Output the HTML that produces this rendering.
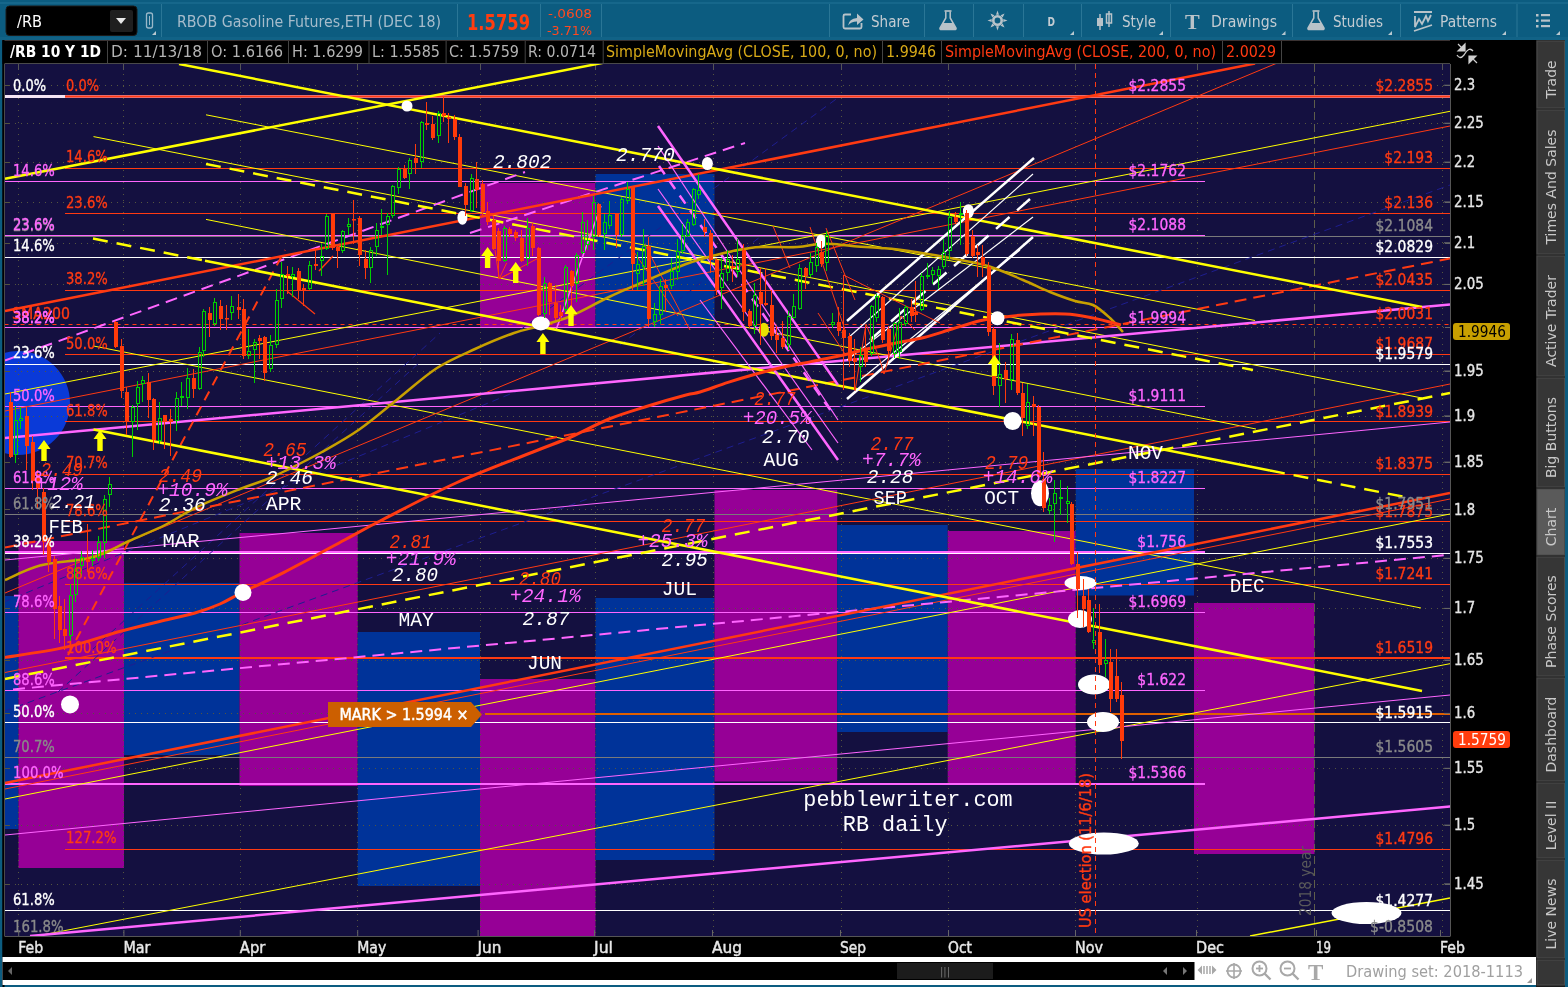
<!DOCTYPE html>
<html><head><meta charset="utf-8"><title>/RB chart</title>
<style>html,body{margin:0;padding:0;background:#000;width:1568px;height:987px;overflow:hidden}svg{display:block}text{white-space:pre}</style>
</head><body>
<svg width="1568" height="987" viewBox="0 0 1568 987">
<defs><clipPath id="plotclip"><rect x="4.5" y="64" width="1445.5" height="872"/></clipPath></defs>
<rect x="0" y="0" width="1568" height="987" fill="#000"/>
<rect x="0" y="0" width="1568" height="40" fill="#0c5c80"/>
<rect x="0" y="2" width="1568" height="2" fill="#16678b"/>
<rect x="0" y="37" width="1568" height="3" fill="#116286"/>
<rect x="0" y="40" width="2.5" height="947" fill="#0c5c80"/>
<rect x="1565" y="40" width="3" height="947" fill="#0c5c80"/>
<rect x="0" y="985" width="1568" height="2" fill="#0c5c80"/>
<rect x="6" y="6" width="131" height="29.5" rx="3.5" fill="#000" stroke="#1a1a1a"/>
<rect x="110" y="10" width="23" height="22" rx="2" fill="#1f1f1f"/>
<path d="M116 18 L126 18 L121 24 Z" fill="#e8e8e8"/>
<text x="17" y="27" fill="#ffffff" font-size="16" font-family="DejaVu Sans" textLength="25" lengthAdjust="spacingAndGlyphs">/RB</text>
<rect x="146.5" y="13" width="6" height="15" rx="2" fill="none" stroke="#9ab8c8" stroke-width="1.3"/>
<line x1="149.5" y1="16" x2="149.5" y2="25" stroke="#9ab8c8" stroke-width="1"/>
<path d="M152 35 L156 35 L156 31 Z" fill="#b8c8d0"/>
<path d="M1070 35 L1074 35 L1074 31 Z" fill="#b8c8d0"/>
<path d="M1159 35 L1163 35 L1163 31 Z" fill="#b8c8d0"/>
<path d="M1281.5 35 L1285.5 35 L1285.5 31 Z" fill="#b8c8d0"/>
<path d="M1388 35 L1392 35 L1392 31 Z" fill="#b8c8d0"/>
<path d="M1502 35 L1506 35 L1506 31 Z" fill="#b8c8d0"/>
<path d="M1556 35 L1560 35 L1560 31 Z" fill="#b8c8d0"/>
<rect x="161" y="4" width="1" height="33" fill="#2a7696"/>
<rect x="457" y="4" width="1" height="33" fill="#2a7696"/>
<rect x="540" y="4" width="1" height="33" fill="#2a7696"/>
<rect x="601" y="4" width="1" height="33" fill="#2a7696"/>
<rect x="829" y="4" width="1" height="33" fill="#2a7696"/>
<rect x="924" y="4" width="1" height="33" fill="#2a7696"/>
<rect x="973" y="4" width="1" height="33" fill="#2a7696"/>
<rect x="1023" y="4" width="1" height="33" fill="#2a7696"/>
<rect x="1081" y="4" width="1" height="33" fill="#2a7696"/>
<rect x="1170" y="4" width="1" height="33" fill="#2a7696"/>
<rect x="1292" y="4" width="1" height="33" fill="#2a7696"/>
<rect x="1400" y="4" width="1" height="33" fill="#2a7696"/>
<rect x="1516.5" y="4" width="1" height="33" fill="#2a7696"/>
<text x="177" y="27" fill="#a6bccb" font-size="16" font-family="DejaVu Sans" font-weight="normal" text-anchor="start" textLength="264" lengthAdjust="spacingAndGlyphs">RBOB Gasoline Futures,ETH (DEC 18)</text>
<text x="467" y="30" fill="#ff3d10" font-size="22" font-family="DejaVu Sans" font-weight="bold" text-anchor="start" textLength="63" lengthAdjust="spacingAndGlyphs">1.5759</text>
<text x="548" y="18" fill="#ff4a20" font-size="12.5" font-family="DejaVu Sans" font-weight="normal" text-anchor="start" textLength="44" lengthAdjust="spacingAndGlyphs">-.0608</text>
<text x="547" y="35" fill="#ff4a20" font-size="12.5" font-family="DejaVu Sans" font-weight="normal" text-anchor="start" textLength="45" lengthAdjust="spacingAndGlyphs">-3.71%</text>
<text x="871" y="27" fill="#c4ccd2" font-size="16" font-family="DejaVu Sans" font-weight="normal" text-anchor="start" textLength="39" lengthAdjust="spacingAndGlyphs">Share</text>
<text x="1122" y="27" fill="#c4ccd2" font-size="16" font-family="DejaVu Sans" font-weight="normal" text-anchor="start" textLength="34" lengthAdjust="spacingAndGlyphs">Style</text>
<text x="1211" y="27" fill="#c4ccd2" font-size="16" font-family="DejaVu Sans" font-weight="normal" text-anchor="start" textLength="66" lengthAdjust="spacingAndGlyphs">Drawings</text>
<text x="1333" y="27" fill="#c4ccd2" font-size="16" font-family="DejaVu Sans" font-weight="normal" text-anchor="start" textLength="50" lengthAdjust="spacingAndGlyphs">Studies</text>
<text x="1440" y="27" fill="#c4ccd2" font-size="16" font-family="DejaVu Sans" font-weight="normal" text-anchor="start" textLength="57" lengthAdjust="spacingAndGlyphs">Patterns</text>
<text x="1047.5" y="26" fill="#c4ccd2" font-size="12.5" font-family="DejaVu Sans" font-weight="bold" text-anchor="start" textLength="7.5" lengthAdjust="spacingAndGlyphs">D</text>
<path d="M851 14.5 L845 14.5 Q843.5 14.5 843.5 16 L843.5 27 Q843.5 28.5 845 28.5 L860 28.5 Q861.5 28.5 861.5 27 L861.5 23" fill="none" stroke="#b9c3c9" stroke-width="1.8"/>
<path d="M848 25.5 Q849 18.5 857 18 L857 13.5 L863.5 19.5 L857 25 L857 21.5 Q851 21.5 848 25.5 Z" fill="#b9c3c9"/>
<path d="M944.5 11 L951.5 11" stroke="#b9c3c9" stroke-width="1.6"/>
<path d="M945.8 11.5 L945.8 18 L940 28 Q939.5 29.5 941.5 29.5 L954.5 29.5 Q956.5 29.5 956 28 L950.2 18 L950.2 11.5" fill="none" stroke="#b9c3c9" stroke-width="1.5"/>
<path d="M943 23 L953 23 L956 28.5 Q956 29.5 954.5 29.5 L941.5 29.5 Q940 29.5 940 28.5 Z" fill="#b9c3c9"/>
<path d="M1312.5 11 L1319.5 11" stroke="#b9c3c9" stroke-width="1.6"/>
<path d="M1313.8 11.5 L1313.8 18 L1308 28 Q1307.5 29.5 1309.5 29.5 L1322.5 29.5 Q1324.5 29.5 1324 28 L1318.2 18 L1318.2 11.5" fill="none" stroke="#b9c3c9" stroke-width="1.5"/>
<path d="M1311 23 L1321 23 L1324 28.5 Q1324 29.5 1322.5 29.5 L1309.5 29.5 Q1308 29.5 1308 28.5 Z" fill="#b9c3c9"/>
<circle cx="997.5" cy="20.5" r="4.2" fill="none" stroke="#b9c3c9" stroke-width="2.6"/>
<path d="M1007.50 20.50 L1003.32 19.05 L1003.32 21.95 Z" fill="#b9c3c9"/>
<path d="M1004.57 27.57 L1002.64 23.59 L1000.59 25.64 Z" fill="#b9c3c9"/>
<path d="M997.50 30.50 L998.95 26.32 L996.05 26.32 Z" fill="#b9c3c9"/>
<path d="M990.43 27.57 L994.41 25.64 L992.36 23.59 Z" fill="#b9c3c9"/>
<path d="M987.50 20.50 L991.68 21.95 L991.68 19.05 Z" fill="#b9c3c9"/>
<path d="M990.43 13.43 L992.36 17.41 L994.41 15.36 Z" fill="#b9c3c9"/>
<path d="M997.50 10.50 L996.05 14.68 L998.95 14.68 Z" fill="#b9c3c9"/>
<path d="M1004.57 13.43 L1000.59 15.36 L1002.64 17.41 Z" fill="#b9c3c9"/>
<line x1="1100" y1="14" x2="1100" y2="30" stroke="#b9c3c9" stroke-width="1.5"/><rect x="1097" y="18" width="6" height="8" fill="#b9c3c9"/>
<line x1="1109" y1="11" x2="1109" y2="27" stroke="#b9c3c9" stroke-width="1.5"/><rect x="1106.5" y="14" width="5" height="9" fill="none" stroke="#b9c3c9" stroke-width="1.5"/>
<text x="1185" y="29" fill="#b9c3c9" font-size="22" font-family="Liberation Serif" font-weight="bold">T</text>
<path d="M1414 12 L1432 12 M1415 16 L1415 27 L1419 19 L1422 24 L1426 16 L1428 21 L1431 15 M1414 31 L1432 25" fill="none" stroke="#b9c3c9" stroke-width="1.8"/>
<rect x="1536" y="14" width="2.5" height="2.5" fill="#b9c3c9"/><rect x="1541" y="14" width="9" height="2.2" fill="#b9c3c9"/>
<rect x="1536" y="19.5" width="2.5" height="2.5" fill="#b9c3c9"/><rect x="1541" y="19.5" width="9" height="2.2" fill="#b9c3c9"/>
<rect x="1536" y="25" width="2.5" height="2.5" fill="#b9c3c9"/><rect x="1541" y="25" width="9" height="2.2" fill="#b9c3c9"/>
<rect x="2.5" y="40" width="1448" height="24" fill="#000"/>
<rect x="2.5" y="40" width="1448" height="1" fill="#3a3232"/>
<rect x="4" y="63" width="1446" height="1" fill="#4a4a4a"/>
<rect x="2.5" y="40" width="2" height="947" fill="#000"/>
<rect x="107" y="41" width="1" height="22" fill="#444"/>
<rect x="207" y="41" width="1" height="22" fill="#444"/>
<rect x="288" y="41" width="1" height="22" fill="#444"/>
<rect x="368.5" y="41" width="1" height="22" fill="#444"/>
<rect x="445.6" y="41" width="1" height="22" fill="#444"/>
<rect x="524.7" y="41" width="1" height="22" fill="#444"/>
<rect x="602.7" y="41" width="1" height="22" fill="#444"/>
<rect x="882" y="41" width="1" height="22" fill="#444"/>
<rect x="941" y="41" width="1" height="22" fill="#444"/>
<rect x="1222" y="41" width="1" height="22" fill="#444"/>
<rect x="1281" y="41" width="1" height="22" fill="#444"/>
<text x="10" y="57" fill="#ffffff" font-size="15" font-family="DejaVu Sans" font-weight="bold" text-anchor="start" textLength="91" lengthAdjust="spacingAndGlyphs">/RB 10 Y 1D</text>
<text x="111" y="57" fill="#b4b4b4" font-size="15" font-family="DejaVu Sans" font-weight="normal" text-anchor="start" textLength="91" lengthAdjust="spacingAndGlyphs">D: 11/13/18</text>
<text x="211" y="57" fill="#b4b4b4" font-size="15" font-family="DejaVu Sans" font-weight="normal" text-anchor="start" textLength="72" lengthAdjust="spacingAndGlyphs">O: 1.6166</text>
<text x="292" y="57" fill="#b4b4b4" font-size="15" font-family="DejaVu Sans" font-weight="normal" text-anchor="start" textLength="71" lengthAdjust="spacingAndGlyphs">H: 1.6299</text>
<text x="372" y="57" fill="#b4b4b4" font-size="15" font-family="DejaVu Sans" font-weight="normal" text-anchor="start" textLength="68" lengthAdjust="spacingAndGlyphs">L: 1.5585</text>
<text x="449" y="57" fill="#b4b4b4" font-size="15" font-family="DejaVu Sans" font-weight="normal" text-anchor="start" textLength="70" lengthAdjust="spacingAndGlyphs">C: 1.5759</text>
<text x="528" y="57" fill="#b4b4b4" font-size="15" font-family="DejaVu Sans" font-weight="normal" text-anchor="start" textLength="68" lengthAdjust="spacingAndGlyphs">R: 0.0714</text>
<text x="606" y="57" fill="#d8aa18" font-size="15" font-family="DejaVu Sans" font-weight="normal" text-anchor="start" textLength="271" lengthAdjust="spacingAndGlyphs">SimpleMovingAvg (CLOSE, 100, 0, no)</text>
<text x="886" y="57" fill="#d8aa18" font-size="15" font-family="DejaVu Sans" font-weight="normal" text-anchor="start" textLength="50" lengthAdjust="spacingAndGlyphs">1.9946</text>
<text x="945" y="57" fill="#ff3a12" font-size="15" font-family="DejaVu Sans" font-weight="normal" text-anchor="start" textLength="271" lengthAdjust="spacingAndGlyphs">SimpleMovingAvg (CLOSE, 200, 0, no)</text>
<text x="1226" y="57" fill="#ff3a12" font-size="15" font-family="DejaVu Sans" font-weight="normal" text-anchor="start" textLength="50" lengthAdjust="spacingAndGlyphs">2.0029</text>
<g clip-path="url(#plotclip)">
<rect x="4.5" y="64.0" width="1445.5" height="872.0" fill="#141040" />
<rect x="5.0" y="596.0" width="13.5" height="233.0" fill="#003399" />
<rect x="18.5" y="541.0" width="105.5" height="327.0" fill="#960096" />
<rect x="124.0" y="583.0" width="115.5" height="172.0" fill="#003399" />
<rect x="239.5" y="533.0" width="118.2" height="253.0" fill="#960096" />
<rect x="357.7" y="632.0" width="122.3" height="254.0" fill="#003399" />
<rect x="480.0" y="679.0" width="115.5" height="261.0" fill="#960096" />
<rect x="595.5" y="598.0" width="119.0" height="262.0" fill="#003399" />
<rect x="714.5" y="490.0" width="122.7" height="291.5" fill="#960096" />
<rect x="837.2" y="525.0" width="110.5" height="207.0" fill="#003399" />
<rect x="947.7" y="531.0" width="128.0" height="252.0" fill="#960096" />
<rect x="1075.7" y="469.0" width="118.3" height="126.5" fill="#003399" />
<rect x="1194.0" y="603.0" width="120.5" height="251.0" fill="#960096" />
<rect x="480.0" y="183.0" width="115.5" height="145.0" fill="#960096" />
<rect x="595.5" y="174.0" width="119.0" height="154.0" fill="#003399" />
<ellipse cx="18" cy="403" rx="52" ry="52" fill="#0a3ad8"/>
<line x1="18.5" y1="2" x2="18.5" y2="936" stroke="#55553f" stroke-width="1" stroke-dasharray="1,5"/>
<line x1="18.5" y1="64" x2="18.5" y2="70" stroke="#555" stroke-width="1"/>
<line x1="123.5" y1="2" x2="123.5" y2="936" stroke="#55553f" stroke-width="1" stroke-dasharray="1,5"/>
<line x1="123.5" y1="64" x2="123.5" y2="70" stroke="#555" stroke-width="1"/>
<line x1="240.5" y1="2" x2="240.5" y2="936" stroke="#55553f" stroke-width="1" stroke-dasharray="1,5"/>
<line x1="240.5" y1="64" x2="240.5" y2="70" stroke="#555" stroke-width="1"/>
<line x1="357.5" y1="2" x2="357.5" y2="936" stroke="#55553f" stroke-width="1" stroke-dasharray="1,5"/>
<line x1="357.5" y1="64" x2="357.5" y2="70" stroke="#555" stroke-width="1"/>
<line x1="480.5" y1="2" x2="480.5" y2="936" stroke="#55553f" stroke-width="1" stroke-dasharray="1,5"/>
<line x1="480.5" y1="64" x2="480.5" y2="70" stroke="#555" stroke-width="1"/>
<line x1="595.5" y1="2" x2="595.5" y2="936" stroke="#55553f" stroke-width="1" stroke-dasharray="1,5"/>
<line x1="595.5" y1="64" x2="595.5" y2="70" stroke="#555" stroke-width="1"/>
<line x1="713.5" y1="2" x2="713.5" y2="936" stroke="#55553f" stroke-width="1" stroke-dasharray="1,5"/>
<line x1="713.5" y1="64" x2="713.5" y2="70" stroke="#555" stroke-width="1"/>
<line x1="841.5" y1="2" x2="841.5" y2="936" stroke="#55553f" stroke-width="1" stroke-dasharray="1,5"/>
<line x1="841.5" y1="64" x2="841.5" y2="70" stroke="#555" stroke-width="1"/>
<line x1="948.5" y1="2" x2="948.5" y2="936" stroke="#55553f" stroke-width="1" stroke-dasharray="1,5"/>
<line x1="948.5" y1="64" x2="948.5" y2="70" stroke="#555" stroke-width="1"/>
<line x1="1075.5" y1="2" x2="1075.5" y2="936" stroke="#55553f" stroke-width="1" stroke-dasharray="1,5"/>
<line x1="1075.5" y1="64" x2="1075.5" y2="70" stroke="#555" stroke-width="1"/>
<line x1="1197.5" y1="2" x2="1197.5" y2="936" stroke="#55553f" stroke-width="1" stroke-dasharray="1,5"/>
<line x1="1197.5" y1="64" x2="1197.5" y2="70" stroke="#555" stroke-width="1"/>
<line x1="1314.5" y1="64.0" x2="1314.5" y2="936.0" stroke="#5e5e4a" stroke-width="1" stroke-dasharray="8,4" stroke-linecap="butt"/>
<line x1="1442.5" y1="2" x2="1442.5" y2="936" stroke="#55553f" stroke-width="1" stroke-dasharray="1,5"/>
<line x1="1442.5" y1="64" x2="1442.5" y2="70" stroke="#555" stroke-width="1"/>
<line x1="3" y1="884.5" x2="1450" y2="884.5" stroke="#55553f" stroke-width="1" stroke-dasharray="1,5"/>
<line x1="4.5" y1="884.5" x2="9.5" y2="884.5" stroke="#55553f" stroke-width="1" stroke-linecap="butt"/>
<line x1="1445.0" y1="884.5" x2="1450.0" y2="884.5" stroke="#666" stroke-width="1" stroke-linecap="butt"/>
<line x1="3" y1="825.5" x2="1450" y2="825.5" stroke="#55553f" stroke-width="1" stroke-dasharray="1,5"/>
<line x1="4.5" y1="825.5" x2="9.5" y2="825.5" stroke="#55553f" stroke-width="1" stroke-linecap="butt"/>
<line x1="1445.0" y1="825.5" x2="1450.0" y2="825.5" stroke="#666" stroke-width="1" stroke-linecap="butt"/>
<line x1="3" y1="768.5" x2="1450" y2="768.5" stroke="#55553f" stroke-width="1" stroke-dasharray="1,5"/>
<line x1="4.5" y1="768.5" x2="9.5" y2="768.5" stroke="#55553f" stroke-width="1" stroke-linecap="butt"/>
<line x1="1445.0" y1="768.5" x2="1450.0" y2="768.5" stroke="#666" stroke-width="1" stroke-linecap="butt"/>
<line x1="3" y1="713.5" x2="1450" y2="713.5" stroke="#55553f" stroke-width="1" stroke-dasharray="1,5"/>
<line x1="4.5" y1="713.5" x2="9.5" y2="713.5" stroke="#55553f" stroke-width="1" stroke-linecap="butt"/>
<line x1="1445.0" y1="713.5" x2="1450.0" y2="713.5" stroke="#666" stroke-width="1" stroke-linecap="butt"/>
<line x1="3" y1="660.5" x2="1450" y2="660.5" stroke="#55553f" stroke-width="1" stroke-dasharray="1,5"/>
<line x1="4.5" y1="660.5" x2="9.5" y2="660.5" stroke="#55553f" stroke-width="1" stroke-linecap="butt"/>
<line x1="1445.0" y1="660.5" x2="1450.0" y2="660.5" stroke="#666" stroke-width="1" stroke-linecap="butt"/>
<line x1="3" y1="608.5" x2="1450" y2="608.5" stroke="#55553f" stroke-width="1" stroke-dasharray="1,5"/>
<line x1="4.5" y1="608.5" x2="9.5" y2="608.5" stroke="#55553f" stroke-width="1" stroke-linecap="butt"/>
<line x1="1445.0" y1="608.5" x2="1450.0" y2="608.5" stroke="#666" stroke-width="1" stroke-linecap="butt"/>
<line x1="3" y1="558.5" x2="1450" y2="558.5" stroke="#55553f" stroke-width="1" stroke-dasharray="1,5"/>
<line x1="4.5" y1="558.5" x2="9.5" y2="558.5" stroke="#55553f" stroke-width="1" stroke-linecap="butt"/>
<line x1="1445.0" y1="558.5" x2="1450.0" y2="558.5" stroke="#666" stroke-width="1" stroke-linecap="butt"/>
<line x1="3" y1="509.5" x2="1450" y2="509.5" stroke="#55553f" stroke-width="1" stroke-dasharray="1,5"/>
<line x1="4.5" y1="509.5" x2="9.5" y2="509.5" stroke="#55553f" stroke-width="1" stroke-linecap="butt"/>
<line x1="1445.0" y1="509.5" x2="1450.0" y2="509.5" stroke="#666" stroke-width="1" stroke-linecap="butt"/>
<line x1="3" y1="462.5" x2="1450" y2="462.5" stroke="#55553f" stroke-width="1" stroke-dasharray="1,5"/>
<line x1="4.5" y1="462.5" x2="9.5" y2="462.5" stroke="#55553f" stroke-width="1" stroke-linecap="butt"/>
<line x1="1445.0" y1="462.5" x2="1450.0" y2="462.5" stroke="#666" stroke-width="1" stroke-linecap="butt"/>
<line x1="3" y1="416.5" x2="1450" y2="416.5" stroke="#55553f" stroke-width="1" stroke-dasharray="1,5"/>
<line x1="4.5" y1="416.5" x2="9.5" y2="416.5" stroke="#55553f" stroke-width="1" stroke-linecap="butt"/>
<line x1="1445.0" y1="416.5" x2="1450.0" y2="416.5" stroke="#666" stroke-width="1" stroke-linecap="butt"/>
<line x1="3" y1="371.5" x2="1450" y2="371.5" stroke="#55553f" stroke-width="1" stroke-dasharray="1,5"/>
<line x1="4.5" y1="371.5" x2="9.5" y2="371.5" stroke="#55553f" stroke-width="1" stroke-linecap="butt"/>
<line x1="1445.0" y1="371.5" x2="1450.0" y2="371.5" stroke="#666" stroke-width="1" stroke-linecap="butt"/>
<line x1="3" y1="327.5" x2="1450" y2="327.5" stroke="#55553f" stroke-width="1" stroke-dasharray="1,5"/>
<line x1="4.5" y1="327.5" x2="9.5" y2="327.5" stroke="#55553f" stroke-width="1" stroke-linecap="butt"/>
<line x1="1445.0" y1="327.5" x2="1450.0" y2="327.5" stroke="#666" stroke-width="1" stroke-linecap="butt"/>
<line x1="3" y1="284.5" x2="1450" y2="284.5" stroke="#55553f" stroke-width="1" stroke-dasharray="1,5"/>
<line x1="4.5" y1="284.5" x2="9.5" y2="284.5" stroke="#55553f" stroke-width="1" stroke-linecap="butt"/>
<line x1="1445.0" y1="284.5" x2="1450.0" y2="284.5" stroke="#666" stroke-width="1" stroke-linecap="butt"/>
<line x1="3" y1="243.5" x2="1450" y2="243.5" stroke="#55553f" stroke-width="1" stroke-dasharray="1,5"/>
<line x1="4.5" y1="243.5" x2="9.5" y2="243.5" stroke="#55553f" stroke-width="1" stroke-linecap="butt"/>
<line x1="1445.0" y1="243.5" x2="1450.0" y2="243.5" stroke="#666" stroke-width="1" stroke-linecap="butt"/>
<line x1="3" y1="202.5" x2="1450" y2="202.5" stroke="#55553f" stroke-width="1" stroke-dasharray="1,5"/>
<line x1="4.5" y1="202.5" x2="9.5" y2="202.5" stroke="#55553f" stroke-width="1" stroke-linecap="butt"/>
<line x1="1445.0" y1="202.5" x2="1450.0" y2="202.5" stroke="#666" stroke-width="1" stroke-linecap="butt"/>
<line x1="3" y1="162.5" x2="1450" y2="162.5" stroke="#55553f" stroke-width="1" stroke-dasharray="1,5"/>
<line x1="4.5" y1="162.5" x2="9.5" y2="162.5" stroke="#55553f" stroke-width="1" stroke-linecap="butt"/>
<line x1="1445.0" y1="162.5" x2="1450.0" y2="162.5" stroke="#666" stroke-width="1" stroke-linecap="butt"/>
<line x1="3" y1="123.5" x2="1450" y2="123.5" stroke="#55553f" stroke-width="1" stroke-dasharray="1,5"/>
<line x1="4.5" y1="123.5" x2="9.5" y2="123.5" stroke="#55553f" stroke-width="1" stroke-linecap="butt"/>
<line x1="1445.0" y1="123.5" x2="1450.0" y2="123.5" stroke="#666" stroke-width="1" stroke-linecap="butt"/>
<line x1="3" y1="85.5" x2="1450" y2="85.5" stroke="#55553f" stroke-width="1" stroke-dasharray="1,5"/>
<line x1="4.5" y1="85.5" x2="9.5" y2="85.5" stroke="#55553f" stroke-width="1" stroke-linecap="butt"/>
<line x1="1445.0" y1="85.5" x2="1450.0" y2="85.5" stroke="#666" stroke-width="1" stroke-linecap="butt"/>
<line x1="4.5" y1="236.5" x2="1450.0" y2="236.5" stroke="#7a7a7a" stroke-width="1" stroke-linecap="butt"/>
<line x1="4.5" y1="514.5" x2="1450.0" y2="514.5" stroke="#7a7a7a" stroke-width="1" stroke-linecap="butt"/>
<line x1="4.5" y1="757.5" x2="1450.0" y2="757.5" stroke="#7a7a7a" stroke-width="1" stroke-linecap="butt"/>
<line x1="65.0" y1="96.5" x2="1450.0" y2="96.5" stroke="#e86a6a" stroke-width="3" stroke-linecap="butt"/>
<line x1="65.0" y1="96.5" x2="1450.0" y2="96.5" stroke="#ff3a12" stroke-width="1" stroke-linecap="butt"/>
<line x1="65.0" y1="168.5" x2="1450.0" y2="168.5" stroke="#ff3a12" stroke-width="1" stroke-linecap="butt"/>
<line x1="65.0" y1="213.5" x2="1450.0" y2="213.5" stroke="#ff3a12" stroke-width="1" stroke-linecap="butt"/>
<line x1="65.0" y1="290.5" x2="1450.0" y2="290.5" stroke="#ff3a12" stroke-width="1" stroke-linecap="butt"/>
<line x1="65.0" y1="354.5" x2="1450.0" y2="354.5" stroke="#ff3a12" stroke-width="1" stroke-linecap="butt"/>
<line x1="65.0" y1="421.5" x2="1450.0" y2="421.5" stroke="#ff3a12" stroke-width="1" stroke-linecap="butt"/>
<line x1="65.0" y1="474.5" x2="1450.0" y2="474.5" stroke="#ff3a12" stroke-width="1" stroke-linecap="butt"/>
<line x1="65.0" y1="521.5" x2="1450.0" y2="521.5" stroke="#ff3a12" stroke-width="1" stroke-linecap="butt"/>
<line x1="65.0" y1="584.5" x2="1450.0" y2="584.5" stroke="#ff3a12" stroke-width="1" stroke-linecap="butt"/>
<line x1="65.0" y1="658.0" x2="1450.0" y2="658.0" stroke="#ff3a12" stroke-width="2" stroke-linecap="butt"/>
<line x1="65.0" y1="849.5" x2="1450.0" y2="849.5" stroke="#ff3a12" stroke-width="1" stroke-linecap="butt"/>
<line x1="4.5" y1="96.5" x2="65.0" y2="96.5" stroke="#f4e4f4" stroke-width="3" stroke-linecap="butt"/>
<line x1="4.5" y1="257.5" x2="1450.0" y2="257.5" stroke="#ffffff" stroke-width="1" stroke-linecap="butt"/>
<line x1="4.5" y1="364.5" x2="1450.0" y2="364.5" stroke="#ffffff" stroke-width="1" stroke-linecap="butt"/>
<line x1="4.5" y1="553.5" x2="1450.0" y2="553.5" stroke="#ffffff" stroke-width="1" stroke-linecap="butt"/>
<line x1="4.5" y1="722.5" x2="1450.0" y2="722.5" stroke="#ffffff" stroke-width="1" stroke-linecap="butt"/>
<line x1="4.5" y1="910.5" x2="1450.0" y2="910.5" stroke="#ffffff" stroke-width="1" stroke-linecap="butt"/>
<line x1="4.5" y1="181.5" x2="1205.0" y2="181.5" stroke="#ff66ff" stroke-width="1" stroke-linecap="butt"/>
<line x1="4.5" y1="235.5" x2="1205.0" y2="235.5" stroke="#ff66ff" stroke-width="1" stroke-linecap="butt"/>
<line x1="4.5" y1="327.5" x2="1205.0" y2="327.5" stroke="#ff66ff" stroke-width="1" stroke-linecap="butt"/>
<line x1="4.5" y1="406.5" x2="1205.0" y2="406.5" stroke="#ff66ff" stroke-width="1" stroke-linecap="butt"/>
<line x1="4.5" y1="488.5" x2="1205.0" y2="488.5" stroke="#ff66ff" stroke-width="1" stroke-linecap="butt"/>
<line x1="4.5" y1="552.0" x2="1205.0" y2="552.0" stroke="#ff66ff" stroke-width="2" stroke-linecap="butt"/>
<line x1="4.5" y1="612.5" x2="1205.0" y2="612.5" stroke="#ff66ff" stroke-width="1" stroke-linecap="butt"/>
<line x1="4.5" y1="690.5" x2="1205.0" y2="690.5" stroke="#ff66ff" stroke-width="1" stroke-linecap="butt"/>
<line x1="4.5" y1="784.0" x2="1205.0" y2="784.0" stroke="#ff66ff" stroke-width="2" stroke-linecap="butt"/>
<line x1="4.5" y1="324.5" x2="1450.0" y2="324.5" stroke="#ff3a12" stroke-width="1" stroke-dasharray="4,4" stroke-linecap="butt"/>
<line x1="485.0" y1="714.0" x2="1450.0" y2="714.0" stroke="#e06000" stroke-width="2" stroke-linecap="butt"/>
<line x1="5.0" y1="711.0" x2="1450.0" y2="185.0" stroke="#1e1e90" stroke-width="1" stroke-dasharray="7,5" stroke-linecap="butt"/>
<line x1="4.0" y1="602.0" x2="520.0" y2="390.0" stroke="#1e1e90" stroke-width="1" stroke-dasharray="7,5" stroke-linecap="butt"/>
<line x1="58.0" y1="692.0" x2="420.0" y2="362.0" stroke="#1e1e90" stroke-width="1" stroke-dasharray="7,5" stroke-linecap="butt"/>
<line x1="93.0" y1="649.0" x2="440.0" y2="333.0" stroke="#1e1e90" stroke-width="1" stroke-dasharray="7,5" stroke-linecap="butt"/>
<line x1="520.0" y1="330.0" x2="839.0" y2="97.0" stroke="#1e1e90" stroke-width="1" stroke-dasharray="7,5" stroke-linecap="butt"/>
<line x1="620.0" y1="345.0" x2="760.0" y2="237.0" stroke="#1e1e90" stroke-width="1" stroke-dasharray="7,5" stroke-linecap="butt"/>
<line x1="206.0" y1="114.8" x2="1255.0" y2="320.5" stroke="#ffff00" stroke-width="1" stroke-linecap="butt"/>
<line x1="93.5" y1="136.6" x2="1422.0" y2="398.0" stroke="#ffff00" stroke-width="1" stroke-linecap="butt"/>
<line x1="206.0" y1="219.4" x2="1256.0" y2="429.0" stroke="#ffff00" stroke-width="1" stroke-linecap="butt"/>
<line x1="93.5" y1="346.0" x2="1421.0" y2="608.0" stroke="#ffff00" stroke-width="1" stroke-linecap="butt"/>
<line x1="5.0" y1="394.0" x2="1450.0" y2="111.3" stroke="#ffff00" stroke-width="1" stroke-linecap="butt"/>
<line x1="30.0" y1="937.3" x2="1450.0" y2="663.7" stroke="#ffff00" stroke-width="1" stroke-linecap="butt"/>
<line x1="5.0" y1="799.0" x2="1450.0" y2="514.0" stroke="#ffff00" stroke-width="1" stroke-linecap="butt"/>
<line x1="1250.0" y1="936.0" x2="1450.0" y2="898.0" stroke="#ffff00" stroke-width="1.5" stroke-linecap="butt"/>
<line x1="5.0" y1="593.0" x2="1276.0" y2="63.5" stroke="#ff3a12" stroke-width="1" stroke-linecap="butt"/>
<line x1="5.0" y1="411.0" x2="1450.0" y2="126.0" stroke="#ff3a12" stroke-width="1" stroke-linecap="butt"/>
<line x1="5.0" y1="672.5" x2="1450.0" y2="384.0" stroke="#ff3a12" stroke-width="1" stroke-linecap="butt"/>
<line x1="5.0" y1="789.0" x2="1450.0" y2="499.0" stroke="#ff3a12" stroke-width="1" stroke-linecap="butt"/>
<line x1="5.0" y1="835.0" x2="1450.0" y2="695.0" stroke="#ff66ff" stroke-width="1" stroke-linecap="butt"/>
<line x1="5.0" y1="560.0" x2="1450.0" y2="422.0" stroke="#ff66ff" stroke-width="1" stroke-linecap="butt"/>
<line x1="13.0" y1="689.4" x2="1450.0" y2="554.7" stroke="#ff66ff" stroke-width="2" stroke-dasharray="12,7" stroke-linecap="butt"/>
<line x1="5.0" y1="360.5" x2="525.0" y2="172.0" stroke="#ff66ff" stroke-width="2" stroke-dasharray="12,7" stroke-linecap="butt"/>
<line x1="470.0" y1="233.0" x2="745.0" y2="143.0" stroke="#ff66ff" stroke-width="2" stroke-dasharray="12,7" stroke-linecap="butt"/>
<line x1="556.0" y1="330.0" x2="601.0" y2="206.0" stroke="#ff66ff" stroke-width="1.5" stroke-linecap="butt"/>
<line x1="5.0" y1="438.0" x2="1450.0" y2="304.5" stroke="#ff66ff" stroke-width="2.5" stroke-linecap="butt"/>
<line x1="30.0" y1="936.0" x2="1460.0" y2="805.7" stroke="#ff66ff" stroke-width="2.5" stroke-linecap="butt"/>
<line x1="5.0" y1="311.0" x2="1255.0" y2="63.5" stroke="#ff3a12" stroke-width="2.5" stroke-linecap="butt"/>
<line x1="5.0" y1="783.0" x2="1450.0" y2="493.0" stroke="#ff3a12" stroke-width="2.5" stroke-linecap="butt"/>
<line x1="5.0" y1="547.5" x2="1450.0" y2="258.5" stroke="#ff3a12" stroke-width="2" stroke-dasharray="12,7" stroke-linecap="butt"/>
<line x1="68.0" y1="655.0" x2="285.0" y2="250.0" stroke="#ff3a12" stroke-width="2" stroke-dasharray="10,7" stroke-linecap="butt"/>
<line x1="179.0" y1="64.0" x2="1422.0" y2="307.0" stroke="#ffff00" stroke-width="2.5" stroke-linecap="butt"/>
<line x1="5.0" y1="178.8" x2="620.0" y2="59.5" stroke="#ffff00" stroke-width="2.5" stroke-linecap="butt"/>
<line x1="206.0" y1="164.0" x2="1253.0" y2="370.0" stroke="#ffff00" stroke-width="2.5" stroke-dasharray="15,9" stroke-linecap="butt"/>
<line x1="93.0" y1="238.6" x2="205.0" y2="260.7" stroke="#ffff00" stroke-width="2.5" stroke-dasharray="15,9" stroke-linecap="butt"/>
<line x1="205.0" y1="260.7" x2="1270.0" y2="470.5" stroke="#ffff00" stroke-width="2.5" stroke-linecap="butt"/>
<line x1="1270.0" y1="470.5" x2="1410.0" y2="498.0" stroke="#ffff00" stroke-width="2.5" stroke-dasharray="15,9" stroke-linecap="butt"/>
<line x1="93.5" y1="429.4" x2="1422.0" y2="690.9" stroke="#ffff00" stroke-width="2.5" stroke-linecap="butt"/>
<line x1="5.0" y1="679.0" x2="1450.0" y2="393.0" stroke="#ffff00" stroke-width="2.5" stroke-dasharray="15,9" stroke-linecap="butt"/>
<line x1="658.0" y1="126.0" x2="838.0" y2="385.0" stroke="#ff66ff" stroke-width="2.5" stroke-linecap="butt"/>
<line x1="658.0" y1="146.0" x2="838.0" y2="420.0" stroke="#ff66ff" stroke-width="1.2" stroke-linecap="butt"/>
<line x1="659.0" y1="166.0" x2="831.0" y2="411.0" stroke="#ff66ff" stroke-width="2.5" stroke-dasharray="10,8" stroke-linecap="butt"/>
<line x1="658.0" y1="189.0" x2="838.0" y2="443.0" stroke="#ff66ff" stroke-width="1.2" stroke-linecap="butt"/>
<line x1="658.0" y1="206.0" x2="838.0" y2="460.0" stroke="#ff66ff" stroke-width="2.5" stroke-linecap="butt"/>
<line x1="700.0" y1="300.0" x2="812.0" y2="450.0" stroke="#ff66ff" stroke-width="1.2" stroke-linecap="butt"/>
<line x1="847.0" y1="321.0" x2="1034.0" y2="158.0" stroke="#ffffff" stroke-width="2.5" stroke-linecap="butt"/>
<line x1="848.0" y1="338.0" x2="1033.0" y2="174.0" stroke="#ffffff" stroke-width="1.2" stroke-linecap="butt"/>
<line x1="870.0" y1="340.0" x2="1030.0" y2="199.0" stroke="#ffffff" stroke-width="2.5" stroke-dasharray="18,10" stroke-linecap="butt"/>
<line x1="847.0" y1="360.0" x2="1033.0" y2="217.0" stroke="#ffffff" stroke-width="1.2" stroke-linecap="butt"/>
<line x1="847.0" y1="399.0" x2="1033.0" y2="237.0" stroke="#ffffff" stroke-width="2.5" stroke-linecap="butt"/>
<line x1="860.0" y1="380.0" x2="1020.0" y2="250.0" stroke="#ffffff" stroke-width="1.2" stroke-linecap="butt"/>
<polyline points="495,250 499.3,278.7 506.7,262.8" fill="none" stroke="#ff3a12" stroke-width="1"/>
<polyline points="499.3,278.7 516.3,270.2" fill="none" stroke="#ff3a12" stroke-width="1"/>
<polyline points="499.3,278.7 537.6,258.5" fill="none" stroke="#ff3a12" stroke-width="1"/>
<polyline points="826,228 855,300" fill="none" stroke="#ff3a12" stroke-width="1"/>
<polyline points="843.5,275 843.5,390" fill="none" stroke="#ff3a12" stroke-width="1"/>
<polyline points="843.5,275 940,323" fill="none" stroke="#ff3a12" stroke-width="1"/>
<polyline points="818,313 845,354" fill="none" stroke="#ff3a12" stroke-width="1"/>
<polyline points="855,391 866,324 880,360 884,374 901,316 915,330" fill="none" stroke="#ff3a12" stroke-width="1"/>
<polyline points="632,249 678,316" fill="none" stroke="#ff3a12" stroke-width="1"/>
<polyline points="645,245 690,330" fill="none" stroke="#ff3a12" stroke-width="1"/>
<polyline points="810,227 845,330" fill="none" stroke="#ff3a12" stroke-width="1"/>
<polyline points="773,226 790,268" fill="none" stroke="#ff3a12" stroke-width="1"/>
<line x1="287.0" y1="291.0" x2="315.0" y2="314.0" stroke="#ff3a12" stroke-width="1.2" stroke-linecap="butt"/>
<line x1="319.0" y1="271.0" x2="333.0" y2="256.0" stroke="#ff3a12" stroke-width="1.5" stroke-linecap="butt"/>
<path d="M5.0,580.0 C10.8,577.6 26.7,569.0 40.0,565.5 C53.3,562.0 73.8,561.2 85.0,559.0 C96.2,556.8 99.7,555.0 107.0,552.0 C114.3,549.0 119.3,545.5 129.0,541.0 C138.7,536.5 153.8,530.6 165.0,525.0 C176.2,519.4 183.5,513.5 196.0,507.5 C208.5,501.5 228.5,493.6 240.0,489.0 C251.5,484.4 257.5,483.0 265.0,480.0 C272.5,477.0 275.5,475.7 285.0,471.0 C294.5,466.3 309.5,459.0 322.0,452.0 C334.5,445.0 347.2,438.0 360.0,429.0 C372.8,420.0 386.2,408.2 399.0,398.0 C411.8,387.8 424.3,376.2 437.0,368.0 C449.7,359.8 462.2,354.8 475.0,349.0 C487.8,343.2 503.2,336.8 514.0,333.0 C524.8,329.2 530.5,328.8 540.0,326.0 C549.5,323.2 559.5,320.8 571.0,316.0 C582.5,311.2 596.2,303.0 609.0,297.0 C621.8,291.0 635.2,285.5 648.0,280.0 C660.8,274.5 673.3,268.5 686.0,264.0 C698.7,259.5 713.3,255.7 724.0,253.0 C734.7,250.3 743.2,249.0 750.0,248.0 C756.8,247.0 757.2,247.2 765.0,247.0 C772.8,246.8 788.2,247.5 797.0,247.0 C805.8,246.5 812.0,244.5 818.0,244.0 C824.0,243.5 827.3,243.7 833.0,244.0 C838.7,244.3 844.2,245.3 852.0,246.0 C859.8,246.7 870.5,247.2 880.0,248.0 C889.5,248.8 897.3,249.3 909.0,251.0 C920.7,252.7 936.8,255.5 950.0,258.0 C963.2,260.5 975.8,262.3 988.0,266.0 C1000.2,269.7 1012.7,275.7 1023.0,280.0 C1033.3,284.3 1041.3,288.5 1050.0,292.0 C1058.7,295.5 1067.8,298.8 1075.0,301.0 C1082.2,303.2 1087.2,302.2 1093.0,305.0 C1098.8,307.8 1105.0,313.5 1110.0,318.0 C1115.0,322.5 1120.8,329.7 1123.0,332.0" fill="none" stroke="#c8a000" stroke-width="2.5" stroke-linejoin="round"/>
<path d="M4.0,657.5 C14.2,655.8 45.4,651.8 65.0,647.4 C84.6,643.0 104.1,635.7 121.6,631.0 C139.1,626.3 157.8,622.0 170.0,619.0 C182.2,616.0 186.7,615.5 195.0,613.0 C203.3,610.5 212.0,607.5 220.0,604.0 C228.0,600.5 232.3,597.3 243.0,592.0 C253.7,586.7 267.1,581.1 284.0,572.4 C300.9,563.7 328.5,548.6 344.5,540.0 C360.5,531.4 361.4,530.5 380.0,521.0 C398.6,511.5 430.5,494.5 456.0,483.0 C481.5,471.5 513.8,459.7 533.0,452.0 C552.2,444.3 558.3,442.5 571.0,437.0 C583.7,431.5 596.2,424.2 609.0,419.0 C621.8,413.8 635.2,410.0 648.0,406.0 C660.8,402.0 677.3,397.3 686.0,395.0 C694.7,392.7 693.0,394.1 700.0,392.0 C707.0,389.9 718.7,385.4 728.0,382.4 C737.3,379.4 746.7,376.6 756.0,374.0 C765.3,371.4 774.7,369.1 784.0,367.0 C793.3,364.9 802.7,363.3 812.0,361.4 C821.3,359.5 830.7,357.9 840.0,355.8 C849.3,353.7 858.7,350.8 868.0,348.7 C877.3,346.6 886.7,344.9 896.0,343.0 C905.3,341.1 914.7,339.8 924.0,337.5 C933.3,335.2 942.7,331.8 952.0,329.0 C961.3,326.2 972.5,322.5 980.0,320.7 C987.5,318.9 989.8,318.9 997.0,318.0 C1004.2,317.1 1011.7,315.7 1023.0,315.0 C1034.3,314.3 1053.3,313.5 1065.0,314.0 C1076.7,314.5 1083.7,316.2 1093.0,318.0 C1102.3,319.8 1116.3,323.8 1121.0,325.0" fill="none" stroke="#ff3a12" stroke-width="3" stroke-linejoin="round"/>
<ellipse cx="407" cy="106" rx="5.5" ry="5.5" fill="#ffffff"/>
<ellipse cx="462.4" cy="217.7" rx="5" ry="7" fill="#ffffff"/>
<ellipse cx="540.8" cy="323.4" rx="9" ry="7" fill="#ffffff"/>
<ellipse cx="707.4" cy="163.6" rx="5.5" ry="6.5" fill="#ffffff"/>
<ellipse cx="821" cy="241.5" rx="5" ry="7" fill="#ffffff"/>
<ellipse cx="968.4" cy="211.3" rx="5.5" ry="7" fill="#ffffff"/>
<ellipse cx="997.4" cy="318.2" rx="7" ry="7" fill="#ffffff"/>
<ellipse cx="1012.6" cy="421" rx="9" ry="9" fill="#ffffff"/>
<ellipse cx="1040" cy="493.2" rx="9" ry="13" fill="#ffffff"/>
<ellipse cx="1080.5" cy="583" rx="16" ry="7" fill="#ffffff"/>
<ellipse cx="1080" cy="619" rx="12" ry="9" fill="#ffffff"/>
<ellipse cx="1094" cy="684.5" rx="16" ry="10" fill="#ffffff"/>
<ellipse cx="1103" cy="722" rx="16" ry="10" fill="#ffffff"/>
<ellipse cx="1103.8" cy="843.5" rx="35" ry="11" fill="#ffffff"/>
<ellipse cx="1366.5" cy="913" rx="35" ry="11" fill="#ffffff"/>
<ellipse cx="243" cy="592.5" rx="8.5" ry="8.5" fill="#ffffff"/>
<ellipse cx="70" cy="704.4" rx="9" ry="9" fill="#ffffff"/>
<ellipse cx="763.9" cy="329.8" rx="5" ry="7" fill="#e8e000"/>
<line x1="10.5" y1="392.0" x2="10.5" y2="458.0" stroke="#ff3a0a" stroke-width="1" stroke-linecap="butt"/>
<rect x="9.0" y="402.0" width="4" height="55.0" fill="#ff3a0a"/>
<line x1="15.5" y1="406.0" x2="15.5" y2="420.0" stroke="#00d000" stroke-width="1" stroke-linecap="butt"/>
<line x1="15.5" y1="455.0" x2="15.5" y2="463.0" stroke="#00d000" stroke-width="1" stroke-linecap="butt"/>
<rect x="14.5" y="420.5" width="3" height="34.0" fill="none" stroke="#00d000" stroke-width="1"/>
<line x1="20.5" y1="407.0" x2="20.5" y2="418.0" stroke="#00d000" stroke-width="1" stroke-linecap="butt"/>
<line x1="20.5" y1="421.0" x2="20.5" y2="429.0" stroke="#00d000" stroke-width="1" stroke-linecap="butt"/>
<rect x="19.5" y="418.5" width="3" height="2.0" fill="none" stroke="#00d000" stroke-width="1"/>
<line x1="26.5" y1="407.0" x2="26.5" y2="470.0" stroke="#ff3a0a" stroke-width="1" stroke-linecap="butt"/>
<rect x="25.0" y="416.0" width="4" height="30.0" fill="#ff3a0a"/>
<line x1="32.5" y1="436.0" x2="32.5" y2="490.0" stroke="#ff3a0a" stroke-width="1" stroke-linecap="butt"/>
<rect x="31.0" y="442.0" width="4" height="39.0" fill="#ff3a0a"/>
<line x1="37.5" y1="470.0" x2="37.5" y2="509.0" stroke="#ff3a0a" stroke-width="1" stroke-linecap="butt"/>
<rect x="36.0" y="474.0" width="4" height="14.0" fill="#ff3a0a"/>
<line x1="43.5" y1="488.0" x2="43.5" y2="555.0" stroke="#ff3a0a" stroke-width="1" stroke-linecap="butt"/>
<rect x="42.0" y="492.0" width="4" height="50.0" fill="#ff3a0a"/>
<line x1="48.5" y1="538.0" x2="48.5" y2="572.0" stroke="#ff3a0a" stroke-width="1" stroke-linecap="butt"/>
<rect x="47.0" y="540.0" width="4" height="22.0" fill="#ff3a0a"/>
<line x1="54.5" y1="556.0" x2="54.5" y2="639.0" stroke="#ff3a0a" stroke-width="1" stroke-linecap="butt"/>
<rect x="53.0" y="559.0" width="4" height="50.0" fill="#ff3a0a"/>
<line x1="59.5" y1="596.0" x2="59.5" y2="643.0" stroke="#ff3a0a" stroke-width="1" stroke-linecap="butt"/>
<rect x="58.0" y="606.0" width="4" height="24.0" fill="#ff3a0a"/>
<line x1="64.5" y1="599.0" x2="64.5" y2="650.0" stroke="#ff3a0a" stroke-width="1" stroke-linecap="butt"/>
<rect x="63.0" y="629.0" width="4" height="7.0" fill="#ff3a0a"/>
<line x1="70.5" y1="584.0" x2="70.5" y2="595.0" stroke="#00d000" stroke-width="1" stroke-linecap="butt"/>
<line x1="70.5" y1="636.0" x2="70.5" y2="643.0" stroke="#00d000" stroke-width="1" stroke-linecap="butt"/>
<rect x="69.5" y="595.5" width="3" height="40.0" fill="none" stroke="#00d000" stroke-width="1"/>
<line x1="75.5" y1="558.0" x2="75.5" y2="568.0" stroke="#00d000" stroke-width="1" stroke-linecap="butt"/>
<line x1="75.5" y1="595.0" x2="75.5" y2="602.0" stroke="#00d000" stroke-width="1" stroke-linecap="butt"/>
<rect x="74.5" y="568.5" width="3" height="26.0" fill="none" stroke="#00d000" stroke-width="1"/>
<line x1="81.5" y1="551.0" x2="81.5" y2="557.0" stroke="#00d000" stroke-width="1" stroke-linecap="butt"/>
<line x1="81.5" y1="566.0" x2="81.5" y2="577.0" stroke="#00d000" stroke-width="1" stroke-linecap="butt"/>
<rect x="80.5" y="557.5" width="3" height="8.0" fill="none" stroke="#00d000" stroke-width="1"/>
<line x1="87.5" y1="524.0" x2="87.5" y2="572.0" stroke="#ff3a0a" stroke-width="1" stroke-linecap="butt"/>
<rect x="86.0" y="559.0" width="4" height="3.0" fill="#ff3a0a"/>
<line x1="92.5" y1="550.0" x2="92.5" y2="558.0" stroke="#00d000" stroke-width="1" stroke-linecap="butt"/>
<line x1="92.5" y1="561.0" x2="92.5" y2="566.0" stroke="#00d000" stroke-width="1" stroke-linecap="butt"/>
<rect x="91.5" y="558.5" width="3" height="2.0" fill="none" stroke="#00d000" stroke-width="1"/>
<line x1="98.5" y1="536.0" x2="98.5" y2="542.0" stroke="#00d000" stroke-width="1" stroke-linecap="butt"/>
<line x1="98.5" y1="558.0" x2="98.5" y2="561.0" stroke="#00d000" stroke-width="1" stroke-linecap="butt"/>
<rect x="97.5" y="542.5" width="3" height="15.0" fill="none" stroke="#00d000" stroke-width="1"/>
<line x1="104.5" y1="495.0" x2="104.5" y2="499.0" stroke="#00d000" stroke-width="1" stroke-linecap="butt"/>
<line x1="104.5" y1="543.0" x2="104.5" y2="558.0" stroke="#00d000" stroke-width="1" stroke-linecap="butt"/>
<rect x="103.5" y="499.5" width="3" height="43.0" fill="none" stroke="#00d000" stroke-width="1"/>
<line x1="109.5" y1="477.0" x2="109.5" y2="484.0" stroke="#00d000" stroke-width="1" stroke-linecap="butt"/>
<line x1="109.5" y1="495.0" x2="109.5" y2="507.0" stroke="#00d000" stroke-width="1" stroke-linecap="butt"/>
<rect x="108.5" y="484.5" width="3" height="10.0" fill="none" stroke="#00d000" stroke-width="1"/>
<line x1="115.5" y1="321.0" x2="115.5" y2="348.0" stroke="#ff3a0a" stroke-width="1" stroke-linecap="butt"/>
<rect x="114.0" y="322.0" width="4" height="25.0" fill="#ff3a0a"/>
<line x1="121.5" y1="339.0" x2="121.5" y2="398.0" stroke="#ff3a0a" stroke-width="1" stroke-linecap="butt"/>
<rect x="120.0" y="346.0" width="4" height="45.0" fill="#ff3a0a"/>
<line x1="126.5" y1="387.0" x2="126.5" y2="435.0" stroke="#ff3a0a" stroke-width="1" stroke-linecap="butt"/>
<rect x="125.0" y="392.0" width="4" height="29.0" fill="#ff3a0a"/>
<line x1="132.5" y1="405.0" x2="132.5" y2="407.0" stroke="#00d000" stroke-width="1" stroke-linecap="butt"/>
<line x1="132.5" y1="422.0" x2="132.5" y2="457.0" stroke="#00d000" stroke-width="1" stroke-linecap="butt"/>
<rect x="131.5" y="407.5" width="3" height="14.0" fill="none" stroke="#00d000" stroke-width="1"/>
<line x1="137.5" y1="381.0" x2="137.5" y2="387.0" stroke="#00d000" stroke-width="1" stroke-linecap="butt"/>
<line x1="137.5" y1="404.0" x2="137.5" y2="430.0" stroke="#00d000" stroke-width="1" stroke-linecap="butt"/>
<rect x="136.5" y="387.5" width="3" height="16.0" fill="none" stroke="#00d000" stroke-width="1"/>
<line x1="142.5" y1="376.0" x2="142.5" y2="380.0" stroke="#00d000" stroke-width="1" stroke-linecap="butt"/>
<line x1="142.5" y1="384.0" x2="142.5" y2="402.0" stroke="#00d000" stroke-width="1" stroke-linecap="butt"/>
<rect x="141.5" y="380.5" width="3" height="3.0" fill="none" stroke="#00d000" stroke-width="1"/>
<line x1="148.5" y1="373.0" x2="148.5" y2="418.0" stroke="#ff3a0a" stroke-width="1" stroke-linecap="butt"/>
<rect x="147.0" y="382.0" width="4" height="18.0" fill="#ff3a0a"/>
<line x1="153.5" y1="398.0" x2="153.5" y2="450.0" stroke="#ff3a0a" stroke-width="1" stroke-linecap="butt"/>
<rect x="152.0" y="399.0" width="4" height="41.0" fill="#ff3a0a"/>
<line x1="159.5" y1="402.0" x2="159.5" y2="418.0" stroke="#00d000" stroke-width="1" stroke-linecap="butt"/>
<line x1="159.5" y1="441.0" x2="159.5" y2="444.0" stroke="#00d000" stroke-width="1" stroke-linecap="butt"/>
<rect x="158.5" y="418.5" width="3" height="22.0" fill="none" stroke="#00d000" stroke-width="1"/>
<line x1="164.5" y1="415.0" x2="164.5" y2="449.0" stroke="#ff3a0a" stroke-width="1" stroke-linecap="butt"/>
<rect x="163.0" y="415.0" width="4" height="7.0" fill="#ff3a0a"/>
<line x1="170.5" y1="409.0" x2="170.5" y2="456.0" stroke="#ff3a0a" stroke-width="1" stroke-linecap="butt"/>
<rect x="169.0" y="419.0" width="4" height="3.0" fill="#ff3a0a"/>
<line x1="176.5" y1="392.0" x2="176.5" y2="398.0" stroke="#00d000" stroke-width="1" stroke-linecap="butt"/>
<line x1="176.5" y1="421.0" x2="176.5" y2="431.0" stroke="#00d000" stroke-width="1" stroke-linecap="butt"/>
<rect x="175.5" y="398.5" width="3" height="22.0" fill="none" stroke="#00d000" stroke-width="1"/>
<line x1="181.5" y1="382.0" x2="181.5" y2="396.0" stroke="#00d000" stroke-width="1" stroke-linecap="butt"/>
<line x1="181.5" y1="398.0" x2="181.5" y2="406.0" stroke="#00d000" stroke-width="1" stroke-linecap="butt"/>
<rect x="180.5" y="396.5" width="3" height="1.0" fill="none" stroke="#00d000" stroke-width="1"/>
<line x1="187.5" y1="368.0" x2="187.5" y2="378.0" stroke="#00d000" stroke-width="1" stroke-linecap="butt"/>
<line x1="187.5" y1="398.0" x2="187.5" y2="409.0" stroke="#00d000" stroke-width="1" stroke-linecap="butt"/>
<rect x="186.5" y="378.5" width="3" height="19.0" fill="none" stroke="#00d000" stroke-width="1"/>
<line x1="193.5" y1="369.0" x2="193.5" y2="398.0" stroke="#ff3a0a" stroke-width="1" stroke-linecap="butt"/>
<rect x="192.0" y="378.0" width="4" height="11.0" fill="#ff3a0a"/>
<line x1="199.5" y1="347.0" x2="199.5" y2="352.0" stroke="#00d000" stroke-width="1" stroke-linecap="butt"/>
<line x1="199.5" y1="389.0" x2="199.5" y2="390.0" stroke="#00d000" stroke-width="1" stroke-linecap="butt"/>
<rect x="198.5" y="352.5" width="3" height="36.0" fill="none" stroke="#00d000" stroke-width="1"/>
<line x1="203.5" y1="309.0" x2="203.5" y2="311.0" stroke="#00d000" stroke-width="1" stroke-linecap="butt"/>
<line x1="203.5" y1="351.0" x2="203.5" y2="357.0" stroke="#00d000" stroke-width="1" stroke-linecap="butt"/>
<rect x="202.5" y="311.5" width="3" height="39.0" fill="none" stroke="#00d000" stroke-width="1"/>
<line x1="209.5" y1="307.0" x2="209.5" y2="337.0" stroke="#ff3a0a" stroke-width="1" stroke-linecap="butt"/>
<rect x="208.0" y="313.0" width="4" height="7.0" fill="#ff3a0a"/>
<line x1="214.5" y1="298.0" x2="214.5" y2="302.0" stroke="#00d000" stroke-width="1" stroke-linecap="butt"/>
<line x1="214.5" y1="324.0" x2="214.5" y2="326.0" stroke="#00d000" stroke-width="1" stroke-linecap="butt"/>
<rect x="213.5" y="302.5" width="3" height="21.0" fill="none" stroke="#00d000" stroke-width="1"/>
<line x1="220.5" y1="300.0" x2="220.5" y2="330.0" stroke="#ff3a0a" stroke-width="1" stroke-linecap="butt"/>
<rect x="219.0" y="306.0" width="4" height="13.0" fill="#ff3a0a"/>
<line x1="226.5" y1="305.0" x2="226.5" y2="330.0" stroke="#ff3a0a" stroke-width="1" stroke-linecap="butt"/>
<rect x="225.0" y="318.0" width="4" height="1.5" fill="#ff3a0a"/>
<line x1="231.5" y1="296.0" x2="231.5" y2="306.0" stroke="#00d000" stroke-width="1" stroke-linecap="butt"/>
<line x1="231.5" y1="313.0" x2="231.5" y2="320.0" stroke="#00d000" stroke-width="1" stroke-linecap="butt"/>
<rect x="230.5" y="306.5" width="3" height="6.0" fill="none" stroke="#00d000" stroke-width="1"/>
<line x1="238.5" y1="294.0" x2="238.5" y2="319.0" stroke="#ff3a0a" stroke-width="1" stroke-linecap="butt"/>
<rect x="237.0" y="307.0" width="4" height="3.0" fill="#ff3a0a"/>
<line x1="243.5" y1="299.0" x2="243.5" y2="359.0" stroke="#ff3a0a" stroke-width="1" stroke-linecap="butt"/>
<rect x="242.0" y="309.0" width="4" height="47.0" fill="#ff3a0a"/>
<line x1="248.5" y1="329.0" x2="248.5" y2="351.0" stroke="#00d000" stroke-width="1" stroke-linecap="butt"/>
<line x1="248.5" y1="356.0" x2="248.5" y2="359.0" stroke="#00d000" stroke-width="1" stroke-linecap="butt"/>
<rect x="247.5" y="351.5" width="3" height="4.0" fill="none" stroke="#00d000" stroke-width="1"/>
<line x1="254.5" y1="339.0" x2="254.5" y2="342.0" stroke="#00d000" stroke-width="1" stroke-linecap="butt"/>
<line x1="254.5" y1="350.0" x2="254.5" y2="383.0" stroke="#00d000" stroke-width="1" stroke-linecap="butt"/>
<rect x="253.5" y="342.5" width="3" height="7.0" fill="none" stroke="#00d000" stroke-width="1"/>
<line x1="259.5" y1="335.0" x2="259.5" y2="359.0" stroke="#ff3a0a" stroke-width="1" stroke-linecap="butt"/>
<rect x="258.0" y="338.0" width="4" height="3.0" fill="#ff3a0a"/>
<line x1="264.5" y1="336.0" x2="264.5" y2="381.0" stroke="#ff3a0a" stroke-width="1" stroke-linecap="butt"/>
<rect x="263.0" y="337.0" width="4" height="36.0" fill="#ff3a0a"/>
<line x1="270.5" y1="335.0" x2="270.5" y2="345.0" stroke="#00d000" stroke-width="1" stroke-linecap="butt"/>
<line x1="270.5" y1="369.0" x2="270.5" y2="372.0" stroke="#00d000" stroke-width="1" stroke-linecap="butt"/>
<rect x="269.5" y="345.5" width="3" height="23.0" fill="none" stroke="#00d000" stroke-width="1"/>
<line x1="276.5" y1="289.0" x2="276.5" y2="300.0" stroke="#00d000" stroke-width="1" stroke-linecap="butt"/>
<line x1="276.5" y1="345.0" x2="276.5" y2="348.0" stroke="#00d000" stroke-width="1" stroke-linecap="butt"/>
<rect x="275.5" y="300.5" width="3" height="44.0" fill="none" stroke="#00d000" stroke-width="1"/>
<line x1="281.5" y1="262.0" x2="281.5" y2="274.0" stroke="#00d000" stroke-width="1" stroke-linecap="butt"/>
<line x1="281.5" y1="299.0" x2="281.5" y2="308.0" stroke="#00d000" stroke-width="1" stroke-linecap="butt"/>
<rect x="280.5" y="274.5" width="3" height="24.0" fill="none" stroke="#00d000" stroke-width="1"/>
<line x1="287.5" y1="266.0" x2="287.5" y2="294.0" stroke="#ff3a0a" stroke-width="1" stroke-linecap="butt"/>
<rect x="286.0" y="274.0" width="4" height="2.0" fill="#ff3a0a"/>
<line x1="292.5" y1="267.0" x2="292.5" y2="274.0" stroke="#00d000" stroke-width="1" stroke-linecap="butt"/>
<line x1="292.5" y1="277.0" x2="292.5" y2="297.0" stroke="#00d000" stroke-width="1" stroke-linecap="butt"/>
<rect x="291.5" y="274.5" width="3" height="2.0" fill="none" stroke="#00d000" stroke-width="1"/>
<line x1="298.5" y1="268.0" x2="298.5" y2="299.0" stroke="#ff3a0a" stroke-width="1" stroke-linecap="butt"/>
<rect x="297.0" y="271.0" width="4" height="19.0" fill="#ff3a0a"/>
<line x1="303.5" y1="284.0" x2="303.5" y2="306.0" stroke="#ff3a0a" stroke-width="1" stroke-linecap="butt"/>
<rect x="302.0" y="288.0" width="4" height="2.0" fill="#ff3a0a"/>
<line x1="309.5" y1="261.0" x2="309.5" y2="265.0" stroke="#00d000" stroke-width="1" stroke-linecap="butt"/>
<line x1="309.5" y1="289.0" x2="309.5" y2="290.0" stroke="#00d000" stroke-width="1" stroke-linecap="butt"/>
<rect x="308.5" y="265.5" width="3" height="23.0" fill="none" stroke="#00d000" stroke-width="1"/>
<line x1="315.5" y1="248.0" x2="315.5" y2="270.0" stroke="#ff3a0a" stroke-width="1" stroke-linecap="butt"/>
<rect x="314.0" y="264.0" width="4" height="2.0" fill="#ff3a0a"/>
<line x1="321.5" y1="244.0" x2="321.5" y2="256.0" stroke="#00d000" stroke-width="1" stroke-linecap="butt"/>
<line x1="321.5" y1="261.0" x2="321.5" y2="276.0" stroke="#00d000" stroke-width="1" stroke-linecap="butt"/>
<rect x="320.5" y="256.5" width="3" height="4.0" fill="none" stroke="#00d000" stroke-width="1"/>
<line x1="326.5" y1="214.0" x2="326.5" y2="216.0" stroke="#00d000" stroke-width="1" stroke-linecap="butt"/>
<line x1="326.5" y1="249.0" x2="326.5" y2="250.0" stroke="#00d000" stroke-width="1" stroke-linecap="butt"/>
<rect x="325.5" y="216.5" width="3" height="32.0" fill="none" stroke="#00d000" stroke-width="1"/>
<line x1="332.5" y1="214.0" x2="332.5" y2="250.0" stroke="#ff3a0a" stroke-width="1" stroke-linecap="butt"/>
<rect x="331.0" y="214.0" width="4" height="34.0" fill="#ff3a0a"/>
<line x1="337.5" y1="244.0" x2="337.5" y2="268.0" stroke="#ff3a0a" stroke-width="1" stroke-linecap="butt"/>
<rect x="336.0" y="247.0" width="4" height="4.0" fill="#ff3a0a"/>
<line x1="342.5" y1="230.0" x2="342.5" y2="231.0" stroke="#00d000" stroke-width="1" stroke-linecap="butt"/>
<line x1="342.5" y1="251.0" x2="342.5" y2="253.0" stroke="#00d000" stroke-width="1" stroke-linecap="butt"/>
<rect x="341.5" y="231.5" width="3" height="19.0" fill="none" stroke="#00d000" stroke-width="1"/>
<line x1="348.5" y1="218.0" x2="348.5" y2="224.0" stroke="#00d000" stroke-width="1" stroke-linecap="butt"/>
<line x1="348.5" y1="227.0" x2="348.5" y2="235.0" stroke="#00d000" stroke-width="1" stroke-linecap="butt"/>
<rect x="347.5" y="224.5" width="3" height="2.0" fill="none" stroke="#00d000" stroke-width="1"/>
<line x1="353.5" y1="200.0" x2="353.5" y2="244.0" stroke="#ff3a0a" stroke-width="1" stroke-linecap="butt"/>
<rect x="352.0" y="219.0" width="4" height="1.5" fill="#ff3a0a"/>
<line x1="359.5" y1="216.0" x2="359.5" y2="266.0" stroke="#ff3a0a" stroke-width="1" stroke-linecap="butt"/>
<rect x="358.0" y="218.0" width="4" height="37.0" fill="#ff3a0a"/>
<line x1="365.5" y1="250.0" x2="365.5" y2="279.0" stroke="#ff3a0a" stroke-width="1" stroke-linecap="butt"/>
<rect x="364.0" y="259.0" width="4" height="9.0" fill="#ff3a0a"/>
<line x1="370.5" y1="247.0" x2="370.5" y2="250.0" stroke="#00d000" stroke-width="1" stroke-linecap="butt"/>
<line x1="370.5" y1="268.0" x2="370.5" y2="283.0" stroke="#00d000" stroke-width="1" stroke-linecap="butt"/>
<rect x="369.5" y="250.5" width="3" height="17.0" fill="none" stroke="#00d000" stroke-width="1"/>
<line x1="376.5" y1="223.0" x2="376.5" y2="230.0" stroke="#00d000" stroke-width="1" stroke-linecap="butt"/>
<line x1="376.5" y1="247.0" x2="376.5" y2="256.0" stroke="#00d000" stroke-width="1" stroke-linecap="butt"/>
<rect x="375.5" y="230.5" width="3" height="16.0" fill="none" stroke="#00d000" stroke-width="1"/>
<line x1="381.5" y1="209.0" x2="381.5" y2="226.0" stroke="#00d000" stroke-width="1" stroke-linecap="butt"/>
<line x1="381.5" y1="228.0" x2="381.5" y2="235.0" stroke="#00d000" stroke-width="1" stroke-linecap="butt"/>
<rect x="380.5" y="226.5" width="3" height="1.0" fill="none" stroke="#00d000" stroke-width="1"/>
<line x1="387.5" y1="213.0" x2="387.5" y2="216.0" stroke="#00d000" stroke-width="1" stroke-linecap="butt"/>
<line x1="387.5" y1="225.0" x2="387.5" y2="275.0" stroke="#00d000" stroke-width="1" stroke-linecap="butt"/>
<rect x="386.5" y="216.5" width="3" height="8.0" fill="none" stroke="#00d000" stroke-width="1"/>
<line x1="392.5" y1="185.0" x2="392.5" y2="186.0" stroke="#00d000" stroke-width="1" stroke-linecap="butt"/>
<line x1="392.5" y1="216.0" x2="392.5" y2="218.0" stroke="#00d000" stroke-width="1" stroke-linecap="butt"/>
<rect x="391.5" y="186.5" width="3" height="29.0" fill="none" stroke="#00d000" stroke-width="1"/>
<line x1="398.5" y1="167.0" x2="398.5" y2="169.0" stroke="#00d000" stroke-width="1" stroke-linecap="butt"/>
<line x1="398.5" y1="188.0" x2="398.5" y2="194.0" stroke="#00d000" stroke-width="1" stroke-linecap="butt"/>
<rect x="397.5" y="169.5" width="3" height="18.0" fill="none" stroke="#00d000" stroke-width="1"/>
<line x1="404.5" y1="165.0" x2="404.5" y2="179.0" stroke="#ff3a0a" stroke-width="1" stroke-linecap="butt"/>
<rect x="403.0" y="168.0" width="4" height="10.0" fill="#ff3a0a"/>
<line x1="409.5" y1="158.0" x2="409.5" y2="160.0" stroke="#00d000" stroke-width="1" stroke-linecap="butt"/>
<line x1="409.5" y1="174.0" x2="409.5" y2="189.0" stroke="#00d000" stroke-width="1" stroke-linecap="butt"/>
<rect x="408.5" y="160.5" width="3" height="13.0" fill="none" stroke="#00d000" stroke-width="1"/>
<line x1="415.5" y1="144.0" x2="415.5" y2="174.0" stroke="#ff3a0a" stroke-width="1" stroke-linecap="butt"/>
<rect x="414.0" y="158.0" width="4" height="5.0" fill="#ff3a0a"/>
<line x1="421.5" y1="121.0" x2="421.5" y2="122.0" stroke="#00d000" stroke-width="1" stroke-linecap="butt"/>
<line x1="421.5" y1="162.0" x2="421.5" y2="168.0" stroke="#00d000" stroke-width="1" stroke-linecap="butt"/>
<rect x="420.5" y="122.5" width="3" height="39.0" fill="none" stroke="#00d000" stroke-width="1"/>
<line x1="426.5" y1="102.0" x2="426.5" y2="130.0" stroke="#ff3a0a" stroke-width="1" stroke-linecap="butt"/>
<rect x="425.0" y="123.0" width="4" height="2.0" fill="#ff3a0a"/>
<line x1="432.5" y1="116.0" x2="432.5" y2="140.0" stroke="#ff3a0a" stroke-width="1" stroke-linecap="butt"/>
<rect x="431.0" y="124.0" width="4" height="14.0" fill="#ff3a0a"/>
<line x1="438.5" y1="111.0" x2="438.5" y2="113.0" stroke="#00d000" stroke-width="1" stroke-linecap="butt"/>
<line x1="438.5" y1="136.0" x2="438.5" y2="143.0" stroke="#00d000" stroke-width="1" stroke-linecap="butt"/>
<rect x="437.5" y="113.5" width="3" height="22.0" fill="none" stroke="#00d000" stroke-width="1"/>
<line x1="443.5" y1="97.0" x2="443.5" y2="122.0" stroke="#ff3a0a" stroke-width="1" stroke-linecap="butt"/>
<rect x="442.0" y="113.0" width="4" height="3.0" fill="#ff3a0a"/>
<line x1="448.5" y1="113.0" x2="448.5" y2="143.0" stroke="#ff3a0a" stroke-width="1" stroke-linecap="butt"/>
<rect x="447.0" y="117.0" width="4" height="2.0" fill="#ff3a0a"/>
<line x1="454.5" y1="115.0" x2="454.5" y2="140.0" stroke="#ff3a0a" stroke-width="1" stroke-linecap="butt"/>
<rect x="453.0" y="119.0" width="4" height="18.0" fill="#ff3a0a"/>
<line x1="459.5" y1="134.0" x2="459.5" y2="187.0" stroke="#ff3a0a" stroke-width="1" stroke-linecap="butt"/>
<rect x="458.0" y="137.0" width="4" height="50.0" fill="#ff3a0a"/>
<line x1="465.5" y1="183.0" x2="465.5" y2="216.0" stroke="#ff3a0a" stroke-width="1" stroke-linecap="butt"/>
<rect x="464.0" y="186.0" width="4" height="19.0" fill="#ff3a0a"/>
<line x1="471.5" y1="174.0" x2="471.5" y2="178.0" stroke="#00d000" stroke-width="1" stroke-linecap="butt"/>
<line x1="471.5" y1="211.0" x2="471.5" y2="212.0" stroke="#00d000" stroke-width="1" stroke-linecap="butt"/>
<rect x="470.5" y="178.5" width="3" height="32.0" fill="none" stroke="#00d000" stroke-width="1"/>
<line x1="476.5" y1="162.0" x2="476.5" y2="208.0" stroke="#ff3a0a" stroke-width="1" stroke-linecap="butt"/>
<rect x="475.0" y="179.0" width="4" height="11.0" fill="#ff3a0a"/>
<line x1="482.5" y1="180.0" x2="482.5" y2="216.0" stroke="#ff3a0a" stroke-width="1" stroke-linecap="butt"/>
<rect x="481.0" y="184.0" width="4" height="28.0" fill="#ff3a0a"/>
<line x1="487.5" y1="202.0" x2="487.5" y2="225.0" stroke="#ff3a0a" stroke-width="1" stroke-linecap="butt"/>
<rect x="486.0" y="211.0" width="4" height="11.0" fill="#ff3a0a"/>
<line x1="493.5" y1="216.0" x2="493.5" y2="250.0" stroke="#ff3a0a" stroke-width="1" stroke-linecap="butt"/>
<rect x="492.0" y="220.0" width="4" height="29.0" fill="#ff3a0a"/>
<line x1="498.5" y1="228.0" x2="498.5" y2="278.0" stroke="#ff3a0a" stroke-width="1" stroke-linecap="butt"/>
<rect x="497.0" y="231.0" width="4" height="30.0" fill="#ff3a0a"/>
<line x1="504.5" y1="226.0" x2="504.5" y2="228.0" stroke="#00d000" stroke-width="1" stroke-linecap="butt"/>
<line x1="504.5" y1="261.0" x2="504.5" y2="262.0" stroke="#00d000" stroke-width="1" stroke-linecap="butt"/>
<rect x="503.5" y="228.5" width="3" height="32.0" fill="none" stroke="#00d000" stroke-width="1"/>
<line x1="509.5" y1="227.0" x2="509.5" y2="237.0" stroke="#ff3a0a" stroke-width="1" stroke-linecap="butt"/>
<rect x="508.0" y="229.0" width="4" height="5.0" fill="#ff3a0a"/>
<line x1="515.5" y1="230.0" x2="515.5" y2="241.0" stroke="#ff3a0a" stroke-width="1" stroke-linecap="butt"/>
<rect x="514.0" y="232.0" width="4" height="6.0" fill="#ff3a0a"/>
<line x1="521.5" y1="230.0" x2="521.5" y2="262.0" stroke="#ff3a0a" stroke-width="1" stroke-linecap="butt"/>
<rect x="520.0" y="238.0" width="4" height="23.0" fill="#ff3a0a"/>
<line x1="527.5" y1="218.0" x2="527.5" y2="228.0" stroke="#00d000" stroke-width="1" stroke-linecap="butt"/>
<line x1="527.5" y1="259.0" x2="527.5" y2="266.0" stroke="#00d000" stroke-width="1" stroke-linecap="butt"/>
<rect x="526.5" y="228.5" width="3" height="30.0" fill="none" stroke="#00d000" stroke-width="1"/>
<line x1="532.5" y1="223.0" x2="532.5" y2="256.0" stroke="#ff3a0a" stroke-width="1" stroke-linecap="butt"/>
<rect x="531.0" y="226.0" width="4" height="22.0" fill="#ff3a0a"/>
<line x1="538.5" y1="247.0" x2="538.5" y2="316.0" stroke="#ff3a0a" stroke-width="1" stroke-linecap="butt"/>
<rect x="537.0" y="248.0" width="4" height="67.0" fill="#ff3a0a"/>
<line x1="544.5" y1="277.0" x2="544.5" y2="283.0" stroke="#00d000" stroke-width="1" stroke-linecap="butt"/>
<line x1="544.5" y1="314.0" x2="544.5" y2="318.0" stroke="#00d000" stroke-width="1" stroke-linecap="butt"/>
<rect x="543.5" y="283.5" width="3" height="30.0" fill="none" stroke="#00d000" stroke-width="1"/>
<line x1="549.5" y1="282.0" x2="549.5" y2="315.0" stroke="#ff3a0a" stroke-width="1" stroke-linecap="butt"/>
<rect x="548.0" y="283.0" width="4" height="19.0" fill="#ff3a0a"/>
<line x1="555.5" y1="285.0" x2="555.5" y2="320.0" stroke="#ff3a0a" stroke-width="1" stroke-linecap="butt"/>
<rect x="554.0" y="303.0" width="4" height="15.0" fill="#ff3a0a"/>
<line x1="560.5" y1="305.0" x2="560.5" y2="320.0" stroke="#ff3a0a" stroke-width="1" stroke-linecap="butt"/>
<rect x="559.0" y="312.0" width="4" height="4.0" fill="#ff3a0a"/>
<line x1="565.5" y1="265.0" x2="565.5" y2="267.0" stroke="#00d000" stroke-width="1" stroke-linecap="butt"/>
<line x1="565.5" y1="310.0" x2="565.5" y2="312.0" stroke="#00d000" stroke-width="1" stroke-linecap="butt"/>
<rect x="564.5" y="267.5" width="3" height="42.0" fill="none" stroke="#00d000" stroke-width="1"/>
<line x1="571.5" y1="270.0" x2="571.5" y2="320.0" stroke="#ff3a0a" stroke-width="1" stroke-linecap="butt"/>
<rect x="570.0" y="271.0" width="4" height="15.0" fill="#ff3a0a"/>
<line x1="576.5" y1="253.0" x2="576.5" y2="255.0" stroke="#00d000" stroke-width="1" stroke-linecap="butt"/>
<line x1="576.5" y1="284.0" x2="576.5" y2="302.0" stroke="#00d000" stroke-width="1" stroke-linecap="butt"/>
<rect x="575.5" y="255.5" width="3" height="28.0" fill="none" stroke="#00d000" stroke-width="1"/>
<line x1="582.5" y1="212.0" x2="582.5" y2="222.0" stroke="#00d000" stroke-width="1" stroke-linecap="butt"/>
<line x1="582.5" y1="253.0" x2="582.5" y2="254.0" stroke="#00d000" stroke-width="1" stroke-linecap="butt"/>
<rect x="581.5" y="222.5" width="3" height="30.0" fill="none" stroke="#00d000" stroke-width="1"/>
<line x1="587.5" y1="220.0" x2="587.5" y2="240.0" stroke="#00d000" stroke-width="1" stroke-linecap="butt"/>
<line x1="587.5" y1="245.0" x2="587.5" y2="250.0" stroke="#00d000" stroke-width="1" stroke-linecap="butt"/>
<rect x="586.5" y="240.5" width="3" height="4.0" fill="none" stroke="#00d000" stroke-width="1"/>
<line x1="593.5" y1="196.0" x2="593.5" y2="202.0" stroke="#00d000" stroke-width="1" stroke-linecap="butt"/>
<line x1="593.5" y1="237.0" x2="593.5" y2="250.0" stroke="#00d000" stroke-width="1" stroke-linecap="butt"/>
<rect x="592.5" y="202.5" width="3" height="34.0" fill="none" stroke="#00d000" stroke-width="1"/>
<line x1="598.5" y1="203.0" x2="598.5" y2="237.0" stroke="#ff3a0a" stroke-width="1" stroke-linecap="butt"/>
<rect x="597.0" y="204.0" width="4" height="31.0" fill="#ff3a0a"/>
<line x1="604.5" y1="214.0" x2="604.5" y2="222.0" stroke="#00d000" stroke-width="1" stroke-linecap="butt"/>
<line x1="604.5" y1="234.0" x2="604.5" y2="250.0" stroke="#00d000" stroke-width="1" stroke-linecap="butt"/>
<rect x="603.5" y="222.5" width="3" height="11.0" fill="none" stroke="#00d000" stroke-width="1"/>
<line x1="609.5" y1="201.0" x2="609.5" y2="215.0" stroke="#00d000" stroke-width="1" stroke-linecap="butt"/>
<line x1="609.5" y1="226.0" x2="609.5" y2="229.0" stroke="#00d000" stroke-width="1" stroke-linecap="butt"/>
<rect x="608.5" y="215.5" width="3" height="10.0" fill="none" stroke="#00d000" stroke-width="1"/>
<line x1="616.5" y1="213.0" x2="616.5" y2="248.0" stroke="#ff3a0a" stroke-width="1" stroke-linecap="butt"/>
<rect x="615.0" y="214.0" width="4" height="21.0" fill="#ff3a0a"/>
<line x1="621.5" y1="197.0" x2="621.5" y2="199.0" stroke="#00d000" stroke-width="1" stroke-linecap="butt"/>
<line x1="621.5" y1="235.0" x2="621.5" y2="237.0" stroke="#00d000" stroke-width="1" stroke-linecap="butt"/>
<rect x="620.5" y="199.5" width="3" height="35.0" fill="none" stroke="#00d000" stroke-width="1"/>
<line x1="627.5" y1="182.0" x2="627.5" y2="189.0" stroke="#00d000" stroke-width="1" stroke-linecap="butt"/>
<line x1="627.5" y1="201.0" x2="627.5" y2="204.0" stroke="#00d000" stroke-width="1" stroke-linecap="butt"/>
<rect x="626.5" y="189.5" width="3" height="11.0" fill="none" stroke="#00d000" stroke-width="1"/>
<line x1="632.5" y1="186.0" x2="632.5" y2="290.0" stroke="#ff3a0a" stroke-width="1" stroke-linecap="butt"/>
<rect x="631.0" y="187.0" width="4" height="77.0" fill="#ff3a0a"/>
<line x1="637.5" y1="252.0" x2="637.5" y2="264.0" stroke="#00d000" stroke-width="1" stroke-linecap="butt"/>
<line x1="637.5" y1="274.0" x2="637.5" y2="290.0" stroke="#00d000" stroke-width="1" stroke-linecap="butt"/>
<rect x="636.5" y="264.5" width="3" height="9.0" fill="none" stroke="#00d000" stroke-width="1"/>
<line x1="643.5" y1="229.0" x2="643.5" y2="246.0" stroke="#00d000" stroke-width="1" stroke-linecap="butt"/>
<line x1="643.5" y1="267.0" x2="643.5" y2="286.0" stroke="#00d000" stroke-width="1" stroke-linecap="butt"/>
<rect x="642.5" y="246.5" width="3" height="20.0" fill="none" stroke="#00d000" stroke-width="1"/>
<line x1="648.5" y1="237.0" x2="648.5" y2="327.0" stroke="#ff3a0a" stroke-width="1" stroke-linecap="butt"/>
<rect x="647.0" y="246.0" width="4" height="73.0" fill="#ff3a0a"/>
<line x1="654.5" y1="303.0" x2="654.5" y2="314.0" stroke="#00d000" stroke-width="1" stroke-linecap="butt"/>
<line x1="654.5" y1="322.0" x2="654.5" y2="327.0" stroke="#00d000" stroke-width="1" stroke-linecap="butt"/>
<rect x="653.5" y="314.5" width="3" height="7.0" fill="none" stroke="#00d000" stroke-width="1"/>
<line x1="660.5" y1="279.0" x2="660.5" y2="286.0" stroke="#00d000" stroke-width="1" stroke-linecap="butt"/>
<line x1="660.5" y1="315.0" x2="660.5" y2="324.0" stroke="#00d000" stroke-width="1" stroke-linecap="butt"/>
<rect x="659.5" y="286.5" width="3" height="28.0" fill="none" stroke="#00d000" stroke-width="1"/>
<line x1="665.5" y1="279.0" x2="665.5" y2="312.0" stroke="#ff3a0a" stroke-width="1" stroke-linecap="butt"/>
<rect x="664.0" y="285.0" width="4" height="3.0" fill="#ff3a0a"/>
<line x1="671.5" y1="258.0" x2="671.5" y2="271.0" stroke="#00d000" stroke-width="1" stroke-linecap="butt"/>
<line x1="671.5" y1="286.0" x2="671.5" y2="289.0" stroke="#00d000" stroke-width="1" stroke-linecap="butt"/>
<rect x="670.5" y="271.5" width="3" height="14.0" fill="none" stroke="#00d000" stroke-width="1"/>
<line x1="677.5" y1="239.0" x2="677.5" y2="251.0" stroke="#00d000" stroke-width="1" stroke-linecap="butt"/>
<line x1="677.5" y1="272.0" x2="677.5" y2="280.0" stroke="#00d000" stroke-width="1" stroke-linecap="butt"/>
<rect x="676.5" y="251.5" width="3" height="20.0" fill="none" stroke="#00d000" stroke-width="1"/>
<line x1="682.5" y1="224.0" x2="682.5" y2="235.0" stroke="#00d000" stroke-width="1" stroke-linecap="butt"/>
<line x1="682.5" y1="251.0" x2="682.5" y2="254.0" stroke="#00d000" stroke-width="1" stroke-linecap="butt"/>
<rect x="681.5" y="235.5" width="3" height="15.0" fill="none" stroke="#00d000" stroke-width="1"/>
<line x1="687.5" y1="219.0" x2="687.5" y2="222.0" stroke="#00d000" stroke-width="1" stroke-linecap="butt"/>
<line x1="687.5" y1="236.0" x2="687.5" y2="237.0" stroke="#00d000" stroke-width="1" stroke-linecap="butt"/>
<rect x="686.5" y="222.5" width="3" height="13.0" fill="none" stroke="#00d000" stroke-width="1"/>
<line x1="693.5" y1="188.0" x2="693.5" y2="189.0" stroke="#00d000" stroke-width="1" stroke-linecap="butt"/>
<line x1="693.5" y1="225.0" x2="693.5" y2="226.0" stroke="#00d000" stroke-width="1" stroke-linecap="butt"/>
<rect x="692.5" y="189.5" width="3" height="35.0" fill="none" stroke="#00d000" stroke-width="1"/>
<line x1="698.5" y1="174.0" x2="698.5" y2="190.0" stroke="#00d000" stroke-width="1" stroke-linecap="butt"/>
<line x1="698.5" y1="195.0" x2="698.5" y2="199.0" stroke="#00d000" stroke-width="1" stroke-linecap="butt"/>
<rect x="697.5" y="190.5" width="3" height="4.0" fill="none" stroke="#00d000" stroke-width="1"/>
<line x1="704.5" y1="219.0" x2="704.5" y2="237.0" stroke="#ff3a0a" stroke-width="1" stroke-linecap="butt"/>
<rect x="703.0" y="227.0" width="4" height="5.0" fill="#ff3a0a"/>
<line x1="710.5" y1="230.0" x2="710.5" y2="273.0" stroke="#ff3a0a" stroke-width="1" stroke-linecap="butt"/>
<rect x="709.0" y="233.0" width="4" height="27.0" fill="#ff3a0a"/>
<line x1="716.5" y1="258.0" x2="716.5" y2="295.0" stroke="#ff3a0a" stroke-width="1" stroke-linecap="butt"/>
<rect x="715.0" y="260.0" width="4" height="30.0" fill="#ff3a0a"/>
<line x1="721.5" y1="258.0" x2="721.5" y2="273.0" stroke="#00d000" stroke-width="1" stroke-linecap="butt"/>
<line x1="721.5" y1="288.0" x2="721.5" y2="309.0" stroke="#00d000" stroke-width="1" stroke-linecap="butt"/>
<rect x="720.5" y="273.5" width="3" height="14.0" fill="none" stroke="#00d000" stroke-width="1"/>
<line x1="727.5" y1="250.0" x2="727.5" y2="259.0" stroke="#00d000" stroke-width="1" stroke-linecap="butt"/>
<line x1="727.5" y1="273.0" x2="727.5" y2="281.0" stroke="#00d000" stroke-width="1" stroke-linecap="butt"/>
<rect x="726.5" y="259.5" width="3" height="13.0" fill="none" stroke="#00d000" stroke-width="1"/>
<line x1="732.5" y1="255.0" x2="732.5" y2="282.0" stroke="#ff3a0a" stroke-width="1" stroke-linecap="butt"/>
<rect x="731.0" y="266.0" width="4" height="2.0" fill="#ff3a0a"/>
<line x1="737.5" y1="239.0" x2="737.5" y2="259.0" stroke="#00d000" stroke-width="1" stroke-linecap="butt"/>
<line x1="737.5" y1="272.0" x2="737.5" y2="277.0" stroke="#00d000" stroke-width="1" stroke-linecap="butt"/>
<rect x="736.5" y="259.5" width="3" height="12.0" fill="none" stroke="#00d000" stroke-width="1"/>
<line x1="743.5" y1="244.0" x2="743.5" y2="321.0" stroke="#ff3a0a" stroke-width="1" stroke-linecap="butt"/>
<rect x="742.0" y="250.0" width="4" height="62.0" fill="#ff3a0a"/>
<line x1="749.5" y1="309.0" x2="749.5" y2="328.0" stroke="#ff3a0a" stroke-width="1" stroke-linecap="butt"/>
<rect x="748.0" y="311.0" width="4" height="15.0" fill="#ff3a0a"/>
<line x1="754.5" y1="283.0" x2="754.5" y2="295.0" stroke="#00d000" stroke-width="1" stroke-linecap="butt"/>
<line x1="754.5" y1="326.0" x2="754.5" y2="334.0" stroke="#00d000" stroke-width="1" stroke-linecap="butt"/>
<rect x="753.5" y="295.5" width="3" height="30.0" fill="none" stroke="#00d000" stroke-width="1"/>
<line x1="760.5" y1="268.0" x2="760.5" y2="345.0" stroke="#ff3a0a" stroke-width="1" stroke-linecap="butt"/>
<rect x="759.0" y="292.0" width="4" height="12.0" fill="#ff3a0a"/>
<line x1="765.5" y1="268.0" x2="765.5" y2="306.0" stroke="#ff3a0a" stroke-width="1" stroke-linecap="butt"/>
<rect x="764.0" y="303.0" width="4" height="2.0" fill="#ff3a0a"/>
<line x1="771.5" y1="290.0" x2="771.5" y2="340.0" stroke="#ff3a0a" stroke-width="1" stroke-linecap="butt"/>
<rect x="770.0" y="305.0" width="4" height="31.0" fill="#ff3a0a"/>
<line x1="776.5" y1="326.0" x2="776.5" y2="353.0" stroke="#ff3a0a" stroke-width="1" stroke-linecap="butt"/>
<rect x="775.0" y="335.0" width="4" height="5.0" fill="#ff3a0a"/>
<line x1="782.5" y1="321.0" x2="782.5" y2="349.0" stroke="#ff3a0a" stroke-width="1" stroke-linecap="butt"/>
<rect x="781.0" y="338.0" width="4" height="9.0" fill="#ff3a0a"/>
<line x1="788.5" y1="311.0" x2="788.5" y2="316.0" stroke="#00d000" stroke-width="1" stroke-linecap="butt"/>
<line x1="788.5" y1="345.0" x2="788.5" y2="350.0" stroke="#00d000" stroke-width="1" stroke-linecap="butt"/>
<rect x="787.5" y="316.5" width="3" height="28.0" fill="none" stroke="#00d000" stroke-width="1"/>
<line x1="793.5" y1="294.0" x2="793.5" y2="306.0" stroke="#00d000" stroke-width="1" stroke-linecap="butt"/>
<line x1="793.5" y1="318.0" x2="793.5" y2="319.0" stroke="#00d000" stroke-width="1" stroke-linecap="butt"/>
<rect x="792.5" y="306.5" width="3" height="11.0" fill="none" stroke="#00d000" stroke-width="1"/>
<line x1="799.5" y1="264.0" x2="799.5" y2="268.0" stroke="#00d000" stroke-width="1" stroke-linecap="butt"/>
<line x1="799.5" y1="309.0" x2="799.5" y2="310.0" stroke="#00d000" stroke-width="1" stroke-linecap="butt"/>
<rect x="798.5" y="268.5" width="3" height="40.0" fill="none" stroke="#00d000" stroke-width="1"/>
<line x1="805.5" y1="267.0" x2="805.5" y2="289.0" stroke="#ff3a0a" stroke-width="1" stroke-linecap="butt"/>
<rect x="804.0" y="268.0" width="4" height="8.0" fill="#ff3a0a"/>
<line x1="810.5" y1="253.0" x2="810.5" y2="262.0" stroke="#00d000" stroke-width="1" stroke-linecap="butt"/>
<line x1="810.5" y1="275.0" x2="810.5" y2="277.0" stroke="#00d000" stroke-width="1" stroke-linecap="butt"/>
<rect x="809.5" y="262.5" width="3" height="12.0" fill="none" stroke="#00d000" stroke-width="1"/>
<line x1="816.5" y1="243.0" x2="816.5" y2="247.0" stroke="#00d000" stroke-width="1" stroke-linecap="butt"/>
<line x1="816.5" y1="266.0" x2="816.5" y2="272.0" stroke="#00d000" stroke-width="1" stroke-linecap="butt"/>
<rect x="815.5" y="247.5" width="3" height="18.0" fill="none" stroke="#00d000" stroke-width="1"/>
<line x1="821.5" y1="241.0" x2="821.5" y2="267.0" stroke="#ff3a0a" stroke-width="1" stroke-linecap="butt"/>
<rect x="820.0" y="252.0" width="4" height="12.0" fill="#ff3a0a"/>
<line x1="826.5" y1="231.0" x2="826.5" y2="235.0" stroke="#00d000" stroke-width="1" stroke-linecap="butt"/>
<line x1="826.5" y1="263.0" x2="826.5" y2="271.0" stroke="#00d000" stroke-width="1" stroke-linecap="butt"/>
<rect x="825.5" y="235.5" width="3" height="27.0" fill="none" stroke="#00d000" stroke-width="1"/>
<line x1="832.5" y1="313.0" x2="832.5" y2="322.0" stroke="#00d000" stroke-width="1" stroke-linecap="butt"/>
<line x1="832.5" y1="325.0" x2="832.5" y2="328.0" stroke="#00d000" stroke-width="1" stroke-linecap="butt"/>
<rect x="831.5" y="322.5" width="3" height="2.0" fill="none" stroke="#00d000" stroke-width="1"/>
<line x1="838.5" y1="307.0" x2="838.5" y2="336.0" stroke="#ff3a0a" stroke-width="1" stroke-linecap="butt"/>
<rect x="837.0" y="322.0" width="4" height="9.0" fill="#ff3a0a"/>
<line x1="843.5" y1="319.0" x2="843.5" y2="345.0" stroke="#ff3a0a" stroke-width="1" stroke-linecap="butt"/>
<rect x="842.0" y="330.0" width="4" height="8.0" fill="#ff3a0a"/>
<line x1="849.5" y1="333.0" x2="849.5" y2="367.0" stroke="#ff3a0a" stroke-width="1" stroke-linecap="butt"/>
<rect x="848.0" y="336.0" width="4" height="25.0" fill="#ff3a0a"/>
<line x1="854.5" y1="339.0" x2="854.5" y2="390.0" stroke="#ff3a0a" stroke-width="1" stroke-linecap="butt"/>
<rect x="853.0" y="358.0" width="4" height="4.0" fill="#ff3a0a"/>
<line x1="860.5" y1="347.0" x2="860.5" y2="355.0" stroke="#00d000" stroke-width="1" stroke-linecap="butt"/>
<line x1="860.5" y1="367.0" x2="860.5" y2="382.0" stroke="#00d000" stroke-width="1" stroke-linecap="butt"/>
<rect x="859.5" y="355.5" width="3" height="11.0" fill="none" stroke="#00d000" stroke-width="1"/>
<line x1="865.5" y1="326.0" x2="865.5" y2="367.0" stroke="#ff3a0a" stroke-width="1" stroke-linecap="butt"/>
<rect x="864.0" y="350.0" width="4" height="12.0" fill="#ff3a0a"/>
<line x1="871.5" y1="305.0" x2="871.5" y2="306.0" stroke="#00d000" stroke-width="1" stroke-linecap="butt"/>
<line x1="871.5" y1="354.0" x2="871.5" y2="356.0" stroke="#00d000" stroke-width="1" stroke-linecap="butt"/>
<rect x="870.5" y="306.5" width="3" height="47.0" fill="none" stroke="#00d000" stroke-width="1"/>
<line x1="876.5" y1="294.0" x2="876.5" y2="296.0" stroke="#00d000" stroke-width="1" stroke-linecap="butt"/>
<line x1="876.5" y1="318.0" x2="876.5" y2="322.0" stroke="#00d000" stroke-width="1" stroke-linecap="butt"/>
<rect x="875.5" y="296.5" width="3" height="21.0" fill="none" stroke="#00d000" stroke-width="1"/>
<line x1="882.5" y1="296.0" x2="882.5" y2="343.0" stroke="#ff3a0a" stroke-width="1" stroke-linecap="butt"/>
<rect x="881.0" y="297.0" width="4" height="43.0" fill="#ff3a0a"/>
<line x1="888.5" y1="326.0" x2="888.5" y2="360.0" stroke="#ff3a0a" stroke-width="1" stroke-linecap="butt"/>
<rect x="887.0" y="329.0" width="4" height="22.0" fill="#ff3a0a"/>
<line x1="894.5" y1="322.0" x2="894.5" y2="323.0" stroke="#00d000" stroke-width="1" stroke-linecap="butt"/>
<line x1="894.5" y1="354.0" x2="894.5" y2="358.0" stroke="#00d000" stroke-width="1" stroke-linecap="butt"/>
<rect x="893.5" y="323.5" width="3" height="30.0" fill="none" stroke="#00d000" stroke-width="1"/>
<line x1="899.5" y1="308.0" x2="899.5" y2="322.0" stroke="#00d000" stroke-width="1" stroke-linecap="butt"/>
<line x1="899.5" y1="352.0" x2="899.5" y2="359.0" stroke="#00d000" stroke-width="1" stroke-linecap="butt"/>
<rect x="898.5" y="322.5" width="3" height="29.0" fill="none" stroke="#00d000" stroke-width="1"/>
<line x1="905.5" y1="305.0" x2="905.5" y2="307.0" stroke="#00d000" stroke-width="1" stroke-linecap="butt"/>
<line x1="905.5" y1="324.0" x2="905.5" y2="326.0" stroke="#00d000" stroke-width="1" stroke-linecap="butt"/>
<rect x="904.5" y="307.5" width="3" height="16.0" fill="none" stroke="#00d000" stroke-width="1"/>
<line x1="911.5" y1="299.0" x2="911.5" y2="322.0" stroke="#ff3a0a" stroke-width="1" stroke-linecap="butt"/>
<rect x="910.0" y="307.0" width="4" height="9.0" fill="#ff3a0a"/>
<line x1="915.5" y1="281.0" x2="915.5" y2="322.0" stroke="#ff3a0a" stroke-width="1" stroke-linecap="butt"/>
<rect x="914.0" y="312.0" width="4" height="3.0" fill="#ff3a0a"/>
<line x1="921.5" y1="273.0" x2="921.5" y2="276.0" stroke="#00d000" stroke-width="1" stroke-linecap="butt"/>
<line x1="921.5" y1="310.0" x2="921.5" y2="311.0" stroke="#00d000" stroke-width="1" stroke-linecap="butt"/>
<rect x="920.5" y="276.5" width="3" height="33.0" fill="none" stroke="#00d000" stroke-width="1"/>
<line x1="927.5" y1="263.0" x2="927.5" y2="275.0" stroke="#00d000" stroke-width="1" stroke-linecap="butt"/>
<line x1="927.5" y1="276.0" x2="927.5" y2="279.0" stroke="#00d000" stroke-width="1" stroke-linecap="butt"/>
<rect x="926.5" y="275.5" width="3" height="1.0" fill="none" stroke="#00d000" stroke-width="1"/>
<line x1="932.5" y1="267.0" x2="932.5" y2="270.0" stroke="#00d000" stroke-width="1" stroke-linecap="butt"/>
<line x1="932.5" y1="275.0" x2="932.5" y2="284.0" stroke="#00d000" stroke-width="1" stroke-linecap="butt"/>
<rect x="931.5" y="270.5" width="3" height="4.0" fill="none" stroke="#00d000" stroke-width="1"/>
<line x1="938.5" y1="266.0" x2="938.5" y2="269.0" stroke="#00d000" stroke-width="1" stroke-linecap="butt"/>
<line x1="938.5" y1="276.0" x2="938.5" y2="289.0" stroke="#00d000" stroke-width="1" stroke-linecap="butt"/>
<rect x="937.5" y="269.5" width="3" height="6.0" fill="none" stroke="#00d000" stroke-width="1"/>
<line x1="943.5" y1="239.0" x2="943.5" y2="252.0" stroke="#00d000" stroke-width="1" stroke-linecap="butt"/>
<line x1="943.5" y1="267.0" x2="943.5" y2="269.0" stroke="#00d000" stroke-width="1" stroke-linecap="butt"/>
<rect x="942.5" y="252.5" width="3" height="14.0" fill="none" stroke="#00d000" stroke-width="1"/>
<line x1="949.5" y1="211.0" x2="949.5" y2="217.0" stroke="#00d000" stroke-width="1" stroke-linecap="butt"/>
<line x1="949.5" y1="251.0" x2="949.5" y2="260.0" stroke="#00d000" stroke-width="1" stroke-linecap="butt"/>
<rect x="948.5" y="217.5" width="3" height="33.0" fill="none" stroke="#00d000" stroke-width="1"/>
<line x1="955.5" y1="212.0" x2="955.5" y2="224.0" stroke="#ff3a0a" stroke-width="1" stroke-linecap="butt"/>
<rect x="954.0" y="217.0" width="4" height="5.0" fill="#ff3a0a"/>
<line x1="960.5" y1="202.0" x2="960.5" y2="213.0" stroke="#00d000" stroke-width="1" stroke-linecap="butt"/>
<line x1="960.5" y1="214.0" x2="960.5" y2="245.0" stroke="#00d000" stroke-width="1" stroke-linecap="butt"/>
<rect x="959.5" y="213.5" width="3" height="1.0" fill="none" stroke="#00d000" stroke-width="1"/>
<line x1="966.5" y1="210.0" x2="966.5" y2="256.0" stroke="#ff3a0a" stroke-width="1" stroke-linecap="butt"/>
<rect x="965.0" y="213.0" width="4" height="41.0" fill="#ff3a0a"/>
<line x1="972.5" y1="230.0" x2="972.5" y2="258.0" stroke="#ff3a0a" stroke-width="1" stroke-linecap="butt"/>
<rect x="971.0" y="236.0" width="4" height="20.0" fill="#ff3a0a"/>
<line x1="977.5" y1="245.0" x2="977.5" y2="277.0" stroke="#ff3a0a" stroke-width="1" stroke-linecap="butt"/>
<rect x="976.0" y="252.0" width="4" height="3.0" fill="#ff3a0a"/>
<line x1="982.5" y1="245.0" x2="982.5" y2="277.0" stroke="#ff3a0a" stroke-width="1" stroke-linecap="butt"/>
<rect x="981.0" y="257.0" width="4" height="8.0" fill="#ff3a0a"/>
<line x1="988.5" y1="262.0" x2="988.5" y2="336.0" stroke="#ff3a0a" stroke-width="1" stroke-linecap="butt"/>
<rect x="987.0" y="267.0" width="4" height="65.0" fill="#ff3a0a"/>
<line x1="993.5" y1="327.0" x2="993.5" y2="395.0" stroke="#ff3a0a" stroke-width="1" stroke-linecap="butt"/>
<rect x="992.0" y="329.0" width="4" height="57.0" fill="#ff3a0a"/>
<line x1="999.5" y1="343.0" x2="999.5" y2="374.0" stroke="#00d000" stroke-width="1" stroke-linecap="butt"/>
<line x1="999.5" y1="386.0" x2="999.5" y2="407.0" stroke="#00d000" stroke-width="1" stroke-linecap="butt"/>
<rect x="998.5" y="374.5" width="3" height="11.0" fill="none" stroke="#00d000" stroke-width="1"/>
<line x1="1005.5" y1="362.0" x2="1005.5" y2="403.0" stroke="#ff3a0a" stroke-width="1" stroke-linecap="butt"/>
<rect x="1004.0" y="370.0" width="4" height="9.0" fill="#ff3a0a"/>
<line x1="1011.5" y1="334.0" x2="1011.5" y2="339.0" stroke="#00d000" stroke-width="1" stroke-linecap="butt"/>
<line x1="1011.5" y1="380.0" x2="1011.5" y2="390.0" stroke="#00d000" stroke-width="1" stroke-linecap="butt"/>
<rect x="1010.5" y="339.5" width="3" height="40.0" fill="none" stroke="#00d000" stroke-width="1"/>
<line x1="1017.5" y1="333.0" x2="1017.5" y2="395.0" stroke="#ff3a0a" stroke-width="1" stroke-linecap="butt"/>
<rect x="1016.0" y="340.0" width="4" height="53.0" fill="#ff3a0a"/>
<line x1="1022.5" y1="383.0" x2="1022.5" y2="436.0" stroke="#ff3a0a" stroke-width="1" stroke-linecap="butt"/>
<rect x="1021.0" y="393.0" width="4" height="25.0" fill="#ff3a0a"/>
<line x1="1027.5" y1="384.0" x2="1027.5" y2="402.0" stroke="#00d000" stroke-width="1" stroke-linecap="butt"/>
<line x1="1027.5" y1="426.0" x2="1027.5" y2="429.0" stroke="#00d000" stroke-width="1" stroke-linecap="butt"/>
<rect x="1026.5" y="402.5" width="3" height="23.0" fill="none" stroke="#00d000" stroke-width="1"/>
<line x1="1033.5" y1="396.0" x2="1033.5" y2="436.0" stroke="#ff3a0a" stroke-width="1" stroke-linecap="butt"/>
<rect x="1032.0" y="404.0" width="4" height="3.0" fill="#ff3a0a"/>
<line x1="1038.5" y1="405.0" x2="1038.5" y2="480.0" stroke="#ff3a0a" stroke-width="1" stroke-linecap="butt"/>
<rect x="1037.0" y="407.0" width="4" height="70.0" fill="#ff3a0a"/>
<line x1="1043.5" y1="452.0" x2="1043.5" y2="512.0" stroke="#ff3a0a" stroke-width="1" stroke-linecap="butt"/>
<rect x="1042.0" y="479.0" width="4" height="29.0" fill="#ff3a0a"/>
<line x1="1049.5" y1="498.0" x2="1049.5" y2="505.0" stroke="#00d000" stroke-width="1" stroke-linecap="butt"/>
<line x1="1049.5" y1="511.0" x2="1049.5" y2="514.0" stroke="#00d000" stroke-width="1" stroke-linecap="butt"/>
<rect x="1048.5" y="505.5" width="3" height="5.0" fill="none" stroke="#00d000" stroke-width="1"/>
<line x1="1054.5" y1="480.0" x2="1054.5" y2="493.0" stroke="#00d000" stroke-width="1" stroke-linecap="butt"/>
<line x1="1054.5" y1="504.0" x2="1054.5" y2="542.0" stroke="#00d000" stroke-width="1" stroke-linecap="butt"/>
<rect x="1053.5" y="493.5" width="3" height="10.0" fill="none" stroke="#00d000" stroke-width="1"/>
<line x1="1060.5" y1="480.0" x2="1060.5" y2="497.0" stroke="#00d000" stroke-width="1" stroke-linecap="butt"/>
<line x1="1060.5" y1="499.0" x2="1060.5" y2="515.0" stroke="#00d000" stroke-width="1" stroke-linecap="butt"/>
<rect x="1059.5" y="497.5" width="3" height="1.0" fill="none" stroke="#00d000" stroke-width="1"/>
<line x1="1067.5" y1="486.0" x2="1067.5" y2="501.0" stroke="#00d000" stroke-width="1" stroke-linecap="butt"/>
<line x1="1067.5" y1="504.0" x2="1067.5" y2="523.0" stroke="#00d000" stroke-width="1" stroke-linecap="butt"/>
<rect x="1066.5" y="501.5" width="3" height="2.0" fill="none" stroke="#00d000" stroke-width="1"/>
<line x1="1071.5" y1="502.0" x2="1071.5" y2="565.0" stroke="#ff3a0a" stroke-width="1" stroke-linecap="butt"/>
<rect x="1070.0" y="504.0" width="4" height="60.0" fill="#ff3a0a"/>
<line x1="1077.5" y1="552.0" x2="1077.5" y2="618.0" stroke="#ff3a0a" stroke-width="1" stroke-linecap="butt"/>
<rect x="1076.0" y="564.0" width="4" height="25.0" fill="#ff3a0a"/>
<line x1="1083.5" y1="579.0" x2="1083.5" y2="627.0" stroke="#ff3a0a" stroke-width="1" stroke-linecap="butt"/>
<rect x="1082.0" y="596.0" width="4" height="13.0" fill="#ff3a0a"/>
<line x1="1088.5" y1="589.0" x2="1088.5" y2="633.0" stroke="#ff3a0a" stroke-width="1" stroke-linecap="butt"/>
<rect x="1087.0" y="600.0" width="4" height="32.0" fill="#ff3a0a"/>
<line x1="1093.5" y1="608.0" x2="1093.5" y2="640.0" stroke="#00d000" stroke-width="1" stroke-linecap="butt"/>
<line x1="1093.5" y1="643.0" x2="1093.5" y2="649.0" stroke="#00d000" stroke-width="1" stroke-linecap="butt"/>
<rect x="1092.5" y="640.5" width="3" height="2.0" fill="none" stroke="#00d000" stroke-width="1"/>
<line x1="1099.5" y1="604.0" x2="1099.5" y2="673.0" stroke="#ff3a0a" stroke-width="1" stroke-linecap="butt"/>
<rect x="1098.0" y="632.0" width="4" height="33.0" fill="#ff3a0a"/>
<line x1="1105.5" y1="639.0" x2="1105.5" y2="660.0" stroke="#00d000" stroke-width="1" stroke-linecap="butt"/>
<line x1="1105.5" y1="664.0" x2="1105.5" y2="677.0" stroke="#00d000" stroke-width="1" stroke-linecap="butt"/>
<rect x="1104.5" y="660.5" width="3" height="3.0" fill="none" stroke="#00d000" stroke-width="1"/>
<line x1="1110.5" y1="649.0" x2="1110.5" y2="712.0" stroke="#ff3a0a" stroke-width="1" stroke-linecap="butt"/>
<rect x="1109.0" y="662.0" width="4" height="37.0" fill="#ff3a0a"/>
<line x1="1116.5" y1="649.0" x2="1116.5" y2="702.0" stroke="#ff3a0a" stroke-width="1" stroke-linecap="butt"/>
<rect x="1115.0" y="676.0" width="4" height="23.0" fill="#ff3a0a"/>
<line x1="1121.5" y1="682.0" x2="1121.5" y2="759.0" stroke="#ff3a0a" stroke-width="1" stroke-linecap="butt"/>
<rect x="1120.0" y="695.0" width="4" height="46.0" fill="#ff3a0a"/>
<path d="M44 440 L50.5 449 L46.7 449 L46.7 461 L41.3 461 L41.3 449 L37.5 449 Z" fill="#ffff00"/>
<path d="M100 430 L106.5 439 L102.7 439 L102.7 451 L97.3 451 L97.3 439 L93.5 439 Z" fill="#ffff00"/>
<path d="M487.6 247 L494.1 256 L490.3 256 L490.3 268 L484.90000000000003 268 L484.90000000000003 256 L481.1 256 Z" fill="#ffff00"/>
<path d="M515.7 262 L522.2 271 L518.4000000000001 271 L518.4000000000001 283 L513.0 283 L513.0 271 L509.20000000000005 271 Z" fill="#ffff00"/>
<path d="M542.9 333 L549.4 342 L545.6 342 L545.6 354 L540.1999999999999 354 L540.1999999999999 342 L536.4 342 Z" fill="#ffff00"/>
<path d="M571 305 L577.5 314 L573.7 314 L573.7 326 L568.3 326 L568.3 314 L564.5 314 Z" fill="#ffff00"/>
<path d="M994.4 355 L1000.9 364 L997.1 364 L997.1 376 L991.6999999999999 376 L991.6999999999999 364 L987.9 364 Z" fill="#ffff00"/>
<line x1="1095.5" y1="64.0" x2="1095.5" y2="936.0" stroke="#ff3a12" stroke-width="1" stroke-dasharray="5,4" stroke-linecap="butt"/>
<text x="66.0" y="90.5" fill="#ff3a12" font-size="15.5" font-family="DejaVu Sans" text-anchor="start" font-weight="normal" font-style="normal" textLength="33.0" lengthAdjust="spacingAndGlyphs" stroke="#ff3a12" stroke-width="0.35">0.0%</text>
<text x="66.0" y="162.1" fill="#ff3a12" font-size="15.5" font-family="DejaVu Sans" text-anchor="start" font-weight="normal" font-style="normal" textLength="41.8" lengthAdjust="spacingAndGlyphs" stroke="#ff3a12" stroke-width="0.35">14.6%</text>
<text x="66.0" y="207.6" fill="#ff3a12" font-size="15.5" font-family="DejaVu Sans" text-anchor="start" font-weight="normal" font-style="normal" textLength="41.8" lengthAdjust="spacingAndGlyphs" stroke="#ff3a12" stroke-width="0.35">23.6%</text>
<text x="66.0" y="284.3" fill="#ff3a12" font-size="15.5" font-family="DejaVu Sans" text-anchor="start" font-weight="normal" font-style="normal" textLength="41.8" lengthAdjust="spacingAndGlyphs" stroke="#ff3a12" stroke-width="0.35">38.2%</text>
<text x="66.0" y="348.8" fill="#ff3a12" font-size="15.5" font-family="DejaVu Sans" text-anchor="start" font-weight="normal" font-style="normal" textLength="41.8" lengthAdjust="spacingAndGlyphs" stroke="#ff3a12" stroke-width="0.35">50.0%</text>
<text x="66.0" y="415.9" fill="#ff3a12" font-size="15.5" font-family="DejaVu Sans" text-anchor="start" font-weight="normal" font-style="normal" textLength="41.8" lengthAdjust="spacingAndGlyphs" stroke="#ff3a12" stroke-width="0.35">61.8%</text>
<text x="66.0" y="468.2" fill="#ff3a12" font-size="15.5" font-family="DejaVu Sans" text-anchor="start" font-weight="normal" font-style="normal" textLength="41.8" lengthAdjust="spacingAndGlyphs" stroke="#ff3a12" stroke-width="0.35">70.7%</text>
<text x="66.0" y="516.0" fill="#ff3a12" font-size="15.5" font-family="DejaVu Sans" text-anchor="start" font-weight="normal" font-style="normal" textLength="41.8" lengthAdjust="spacingAndGlyphs" stroke="#ff3a12" stroke-width="0.35">78.6%</text>
<text x="66.0" y="578.5" fill="#ff3a12" font-size="15.5" font-family="DejaVu Sans" text-anchor="start" font-weight="normal" font-style="normal" textLength="41.8" lengthAdjust="spacingAndGlyphs" stroke="#ff3a12" stroke-width="0.35">88.6%</text>
<text x="66.0" y="652.5" fill="#ff3a12" font-size="15.5" font-family="DejaVu Sans" text-anchor="start" font-weight="normal" font-style="normal" textLength="50.6" lengthAdjust="spacingAndGlyphs" stroke="#ff3a12" stroke-width="0.35">100.0%</text>
<text x="66.0" y="843.2" fill="#ff3a12" font-size="15.5" font-family="DejaVu Sans" text-anchor="start" font-weight="normal" font-style="normal" textLength="50.6" lengthAdjust="spacingAndGlyphs" stroke="#ff3a12" stroke-width="0.35">127.2%</text>
<text x="13.0" y="90.5" fill="#ffffff" font-size="15.5" font-family="DejaVu Sans" text-anchor="start" font-weight="normal" font-style="normal" textLength="33.0" lengthAdjust="spacingAndGlyphs" stroke="#ffffff" stroke-width="0.35">0.0%</text>
<text x="13.0" y="251.2" fill="#ffffff" font-size="15.5" font-family="DejaVu Sans" text-anchor="start" font-weight="normal" font-style="normal" textLength="41.8" lengthAdjust="spacingAndGlyphs" stroke="#ffffff" stroke-width="0.35">14.6%</text>
<text x="13.0" y="358.4" fill="#ffffff" font-size="15.5" font-family="DejaVu Sans" text-anchor="start" font-weight="normal" font-style="normal" textLength="41.8" lengthAdjust="spacingAndGlyphs" stroke="#ffffff" stroke-width="0.35">23.6%</text>
<text x="13.0" y="547.4" fill="#ffffff" font-size="15.5" font-family="DejaVu Sans" text-anchor="start" font-weight="normal" font-style="normal" textLength="41.8" lengthAdjust="spacingAndGlyphs" stroke="#ffffff" stroke-width="0.35">38.2%</text>
<text x="13.0" y="717.0" fill="#ffffff" font-size="15.5" font-family="DejaVu Sans" text-anchor="start" font-weight="normal" font-style="normal" textLength="41.8" lengthAdjust="spacingAndGlyphs" stroke="#ffffff" stroke-width="0.35">50.0%</text>
<text x="13.0" y="905.0" fill="#ffffff" font-size="15.5" font-family="DejaVu Sans" text-anchor="start" font-weight="normal" font-style="normal" textLength="41.8" lengthAdjust="spacingAndGlyphs" stroke="#ffffff" stroke-width="0.35">61.8%</text>
<text x="13.0" y="230.8" fill="#8a8a8a" font-size="15.5" font-family="DejaVu Sans" text-anchor="start" font-weight="normal" font-style="normal" textLength="41.8" lengthAdjust="spacingAndGlyphs" stroke="#8a8a8a" stroke-width="0.35">23.6%</text>
<text x="13.0" y="509.2" fill="#8a8a8a" font-size="15.5" font-family="DejaVu Sans" text-anchor="start" font-weight="normal" font-style="normal" textLength="41.8" lengthAdjust="spacingAndGlyphs" stroke="#8a8a8a" stroke-width="0.35">61.8%</text>
<text x="13.0" y="751.7" fill="#8a8a8a" font-size="15.5" font-family="DejaVu Sans" text-anchor="start" font-weight="normal" font-style="normal" textLength="41.8" lengthAdjust="spacingAndGlyphs" stroke="#8a8a8a" stroke-width="0.35">70.7%</text>
<text x="13.0" y="932.0" fill="#8a8a8a" font-size="15.5" font-family="DejaVu Sans" text-anchor="start" font-weight="normal" font-style="normal" textLength="50.6" lengthAdjust="spacingAndGlyphs" stroke="#8a8a8a" stroke-width="0.35">161.8%</text>
<text x="13.0" y="176.0" fill="#ff66ff" font-size="15.5" font-family="DejaVu Sans" text-anchor="start" font-weight="normal" font-style="normal" textLength="41.8" lengthAdjust="spacingAndGlyphs" stroke="#ff66ff" stroke-width="0.35">14.6%</text>
<text x="13.0" y="230.4" fill="#ff66ff" font-size="15.5" font-family="DejaVu Sans" text-anchor="start" font-weight="normal" font-style="normal" textLength="41.8" lengthAdjust="spacingAndGlyphs" stroke="#ff66ff" stroke-width="0.35">23.6%</text>
<text x="13.0" y="322.6" fill="#ff66ff" font-size="15.5" font-family="DejaVu Sans" text-anchor="start" font-weight="normal" font-style="normal" textLength="41.8" lengthAdjust="spacingAndGlyphs" stroke="#ff66ff" stroke-width="0.35">38.2%</text>
<text x="13.0" y="400.8" fill="#ff66ff" font-size="15.5" font-family="DejaVu Sans" text-anchor="start" font-weight="normal" font-style="normal" textLength="41.8" lengthAdjust="spacingAndGlyphs" stroke="#ff66ff" stroke-width="0.35">50.0%</text>
<text x="13.0" y="482.8" fill="#ff66ff" font-size="15.5" font-family="DejaVu Sans" text-anchor="start" font-weight="normal" font-style="normal" textLength="41.8" lengthAdjust="spacingAndGlyphs" stroke="#ff66ff" stroke-width="0.35">61.8%</text>
<text x="13.0" y="606.6" fill="#ff66ff" font-size="15.5" font-family="DejaVu Sans" text-anchor="start" font-weight="normal" font-style="normal" textLength="41.8" lengthAdjust="spacingAndGlyphs" stroke="#ff66ff" stroke-width="0.35">78.6%</text>
<text x="13.0" y="684.8" fill="#ff66ff" font-size="15.5" font-family="DejaVu Sans" text-anchor="start" font-weight="normal" font-style="normal" textLength="41.8" lengthAdjust="spacingAndGlyphs" stroke="#ff66ff" stroke-width="0.35">88.6%</text>
<text x="13.0" y="778.4" fill="#ff66ff" font-size="15.5" font-family="DejaVu Sans" text-anchor="start" font-weight="normal" font-style="normal" textLength="50.6" lengthAdjust="spacingAndGlyphs" stroke="#ff66ff" stroke-width="0.35">100.0%</text>
<text x="12.0" y="319.0" fill="#ff3a12" font-size="15.5" font-family="DejaVu Sans" text-anchor="start" font-weight="normal" font-style="normal" textLength="58" lengthAdjust="spacingAndGlyphs" stroke="#ff3a12" stroke-width="0.35">SMA200</text>
<text x="13.0" y="322.6" fill="#ff66ff" font-size="15.5" font-family="DejaVu Sans" text-anchor="start" font-weight="normal" font-style="normal" textLength="41.8" lengthAdjust="spacingAndGlyphs" stroke="#ff66ff" stroke-width="0.35">38.2%</text>
<text x="1433.0" y="91.1" fill="#ff3a12" font-size="15.5" font-family="DejaVu Sans" text-anchor="end" font-weight="normal" font-style="normal" textLength="57.5" lengthAdjust="spacingAndGlyphs" stroke="#ff3a12" stroke-width="0.35">$2.2855</text>
<text x="1433.0" y="162.7" fill="#ff3a12" font-size="15.5" font-family="DejaVu Sans" text-anchor="end" font-weight="normal" font-style="normal" textLength="48.7" lengthAdjust="spacingAndGlyphs" stroke="#ff3a12" stroke-width="0.35">$2.193</text>
<text x="1433.0" y="208.2" fill="#ff3a12" font-size="15.5" font-family="DejaVu Sans" text-anchor="end" font-weight="normal" font-style="normal" textLength="48.7" lengthAdjust="spacingAndGlyphs" stroke="#ff3a12" stroke-width="0.35">$2.136</text>
<text x="1433.0" y="284.9" fill="#ff3a12" font-size="15.5" font-family="DejaVu Sans" text-anchor="end" font-weight="normal" font-style="normal" textLength="57.5" lengthAdjust="spacingAndGlyphs" stroke="#ff3a12" stroke-width="0.35">$2.0435</text>
<text x="1433.0" y="349.4" fill="#ff3a12" font-size="15.5" font-family="DejaVu Sans" text-anchor="end" font-weight="normal" font-style="normal" textLength="57.5" lengthAdjust="spacingAndGlyphs" stroke="#ff3a12" stroke-width="0.35">$1.9687</text>
<text x="1433.0" y="416.5" fill="#ff3a12" font-size="15.5" font-family="DejaVu Sans" text-anchor="end" font-weight="normal" font-style="normal" textLength="57.5" lengthAdjust="spacingAndGlyphs" stroke="#ff3a12" stroke-width="0.35">$1.8939</text>
<text x="1433.0" y="468.8" fill="#ff3a12" font-size="15.5" font-family="DejaVu Sans" text-anchor="end" font-weight="normal" font-style="normal" textLength="57.5" lengthAdjust="spacingAndGlyphs" stroke="#ff3a12" stroke-width="0.35">$1.8375</text>
<text x="1433.0" y="516.6" fill="#ff3a12" font-size="15.5" font-family="DejaVu Sans" text-anchor="end" font-weight="normal" font-style="normal" textLength="57.5" lengthAdjust="spacingAndGlyphs" stroke="#ff3a12" stroke-width="0.35">$1.7875</text>
<text x="1433.0" y="579.1" fill="#ff3a12" font-size="15.5" font-family="DejaVu Sans" text-anchor="end" font-weight="normal" font-style="normal" textLength="57.5" lengthAdjust="spacingAndGlyphs" stroke="#ff3a12" stroke-width="0.35">$1.7241</text>
<text x="1433.0" y="653.1" fill="#ff3a12" font-size="15.5" font-family="DejaVu Sans" text-anchor="end" font-weight="normal" font-style="normal" textLength="57.5" lengthAdjust="spacingAndGlyphs" stroke="#ff3a12" stroke-width="0.35">$1.6519</text>
<text x="1433.0" y="843.8" fill="#ff3a12" font-size="15.5" font-family="DejaVu Sans" text-anchor="end" font-weight="normal" font-style="normal" textLength="57.5" lengthAdjust="spacingAndGlyphs" stroke="#ff3a12" stroke-width="0.35">$1.4796</text>
<text x="1433.0" y="319.4" fill="#ff3a12" font-size="15.5" font-family="DejaVu Sans" text-anchor="end" font-weight="normal" font-style="normal" textLength="57.5" lengthAdjust="spacingAndGlyphs" stroke="#ff3a12" stroke-width="0.35">$2.0031</text>
<text x="1433.0" y="251.8" fill="#ffffff" font-size="15.5" font-family="DejaVu Sans" text-anchor="end" font-weight="normal" font-style="normal" textLength="57.5" lengthAdjust="spacingAndGlyphs" stroke="#ffffff" stroke-width="0.35">$2.0829</text>
<text x="1433.0" y="359.0" fill="#ffffff" font-size="15.5" font-family="DejaVu Sans" text-anchor="end" font-weight="normal" font-style="normal" textLength="57.5" lengthAdjust="spacingAndGlyphs" stroke="#ffffff" stroke-width="0.35">$1.9579</text>
<text x="1433.0" y="548.0" fill="#ffffff" font-size="15.5" font-family="DejaVu Sans" text-anchor="end" font-weight="normal" font-style="normal" textLength="57.5" lengthAdjust="spacingAndGlyphs" stroke="#ffffff" stroke-width="0.35">$1.7553</text>
<text x="1433.0" y="717.6" fill="#ffffff" font-size="15.5" font-family="DejaVu Sans" text-anchor="end" font-weight="normal" font-style="normal" textLength="57.5" lengthAdjust="spacingAndGlyphs" stroke="#ffffff" stroke-width="0.35">$1.5915</text>
<text x="1433.0" y="905.6" fill="#ffffff" font-size="15.5" font-family="DejaVu Sans" text-anchor="end" font-weight="normal" font-style="normal" textLength="57.5" lengthAdjust="spacingAndGlyphs" stroke="#ffffff" stroke-width="0.35">$1.4277</text>
<text x="1433.0" y="230.8" fill="#8a8a8a" font-size="15.5" font-family="DejaVu Sans" text-anchor="end" font-weight="normal" font-style="normal" textLength="57.5" lengthAdjust="spacingAndGlyphs" stroke="#8a8a8a" stroke-width="0.35">$2.1084</text>
<text x="1433.0" y="509.2" fill="#8a8a8a" font-size="15.5" font-family="DejaVu Sans" text-anchor="end" font-weight="normal" font-style="normal" textLength="57.5" lengthAdjust="spacingAndGlyphs" stroke="#8a8a8a" stroke-width="0.35">$1.7951</text>
<text x="1433.0" y="751.7" fill="#8a8a8a" font-size="15.5" font-family="DejaVu Sans" text-anchor="end" font-weight="normal" font-style="normal" textLength="57.5" lengthAdjust="spacingAndGlyphs" stroke="#8a8a8a" stroke-width="0.35">$1.5605</text>
<text x="1433.0" y="932.0" fill="#8a8a8a" font-size="15.5" font-family="DejaVu Sans" text-anchor="end" font-weight="normal" font-style="normal" textLength="63.0" lengthAdjust="spacingAndGlyphs" stroke="#8a8a8a" stroke-width="0.35">$-0.8508</text>
<text x="1186.0" y="91.1" fill="#ff66ff" font-size="15.5" font-family="DejaVu Sans" text-anchor="end" font-weight="normal" font-style="normal" textLength="57.5" lengthAdjust="spacingAndGlyphs" stroke="#ff66ff" stroke-width="0.35">$2.2855</text>
<text x="1186.0" y="176.0" fill="#ff66ff" font-size="15.5" font-family="DejaVu Sans" text-anchor="end" font-weight="normal" font-style="normal" textLength="57.5" lengthAdjust="spacingAndGlyphs" stroke="#ff66ff" stroke-width="0.35">$2.1762</text>
<text x="1186.0" y="230.4" fill="#ff66ff" font-size="15.5" font-family="DejaVu Sans" text-anchor="end" font-weight="normal" font-style="normal" textLength="57.5" lengthAdjust="spacingAndGlyphs" stroke="#ff66ff" stroke-width="0.35">$2.1088</text>
<text x="1186.0" y="322.6" fill="#ff66ff" font-size="15.5" font-family="DejaVu Sans" text-anchor="end" font-weight="normal" font-style="normal" textLength="57.5" lengthAdjust="spacingAndGlyphs" stroke="#ff66ff" stroke-width="0.35">$1.9994</text>
<text x="1186.0" y="400.8" fill="#ff66ff" font-size="15.5" font-family="DejaVu Sans" text-anchor="end" font-weight="normal" font-style="normal" textLength="57.5" lengthAdjust="spacingAndGlyphs" stroke="#ff66ff" stroke-width="0.35">$1.9111</text>
<text x="1186.0" y="482.8" fill="#ff66ff" font-size="15.5" font-family="DejaVu Sans" text-anchor="end" font-weight="normal" font-style="normal" textLength="57.5" lengthAdjust="spacingAndGlyphs" stroke="#ff66ff" stroke-width="0.35">$1.8227</text>
<text x="1186.0" y="547.3" fill="#ff66ff" font-size="15.5" font-family="DejaVu Sans" text-anchor="end" font-weight="normal" font-style="normal" textLength="48.7" lengthAdjust="spacingAndGlyphs" stroke="#ff66ff" stroke-width="0.35">$1.756</text>
<text x="1186.0" y="606.6" fill="#ff66ff" font-size="15.5" font-family="DejaVu Sans" text-anchor="end" font-weight="normal" font-style="normal" textLength="57.5" lengthAdjust="spacingAndGlyphs" stroke="#ff66ff" stroke-width="0.35">$1.6969</text>
<text x="1186.0" y="684.8" fill="#ff66ff" font-size="15.5" font-family="DejaVu Sans" text-anchor="end" font-weight="normal" font-style="normal" textLength="48.7" lengthAdjust="spacingAndGlyphs" stroke="#ff66ff" stroke-width="0.35">$1.622</text>
<text x="1186.0" y="778.4" fill="#ff66ff" font-size="15.5" font-family="DejaVu Sans" text-anchor="end" font-weight="normal" font-style="normal" textLength="57.5" lengthAdjust="spacingAndGlyphs" stroke="#ff66ff" stroke-width="0.35">$1.5366</text>
<text x="40.5" y="476.4" fill="#ff3a12" font-size="20" font-family="Liberation Mono" text-anchor="start" font-weight="normal" font-style="italic" textLength="42.5" lengthAdjust="spacingAndGlyphs" >2.49</text>
<text x="35.5" y="489.6" fill="#ff66ff" font-size="20" font-family="Liberation Mono" text-anchor="start" font-weight="normal" font-style="italic" textLength="47.5" lengthAdjust="spacingAndGlyphs" >+12%</text>
<text x="50.7" y="507.8" fill="#ffffff" font-size="20" font-family="Liberation Mono" text-anchor="start" font-weight="normal" font-style="italic" textLength="44.5" lengthAdjust="spacingAndGlyphs" >2.21</text>
<text x="48.6" y="533.1" fill="#ffffff" font-size="20" font-family="Liberation Mono" text-anchor="start" font-weight="normal" font-style="normal" textLength="34.4" lengthAdjust="spacingAndGlyphs" >FEB</text>
<text x="158.7" y="481.6" fill="#ff3a12" font-size="20" font-family="Liberation Mono" text-anchor="start" font-weight="normal" font-style="italic" textLength="43.3" lengthAdjust="spacingAndGlyphs" >2.49</text>
<text x="157.4" y="495.7" fill="#ff66ff" font-size="20" font-family="Liberation Mono" text-anchor="start" font-weight="normal" font-style="italic" textLength="70.2" lengthAdjust="spacingAndGlyphs" >+10.9%</text>
<text x="158.7" y="511.0" fill="#ffffff" font-size="20" font-family="Liberation Mono" text-anchor="start" font-weight="normal" font-style="italic" textLength="47.2" lengthAdjust="spacingAndGlyphs" >2.36</text>
<text x="162.5" y="546.7" fill="#ffffff" font-size="20" font-family="Liberation Mono" text-anchor="start" font-weight="normal" font-style="normal" textLength="37.0" lengthAdjust="spacingAndGlyphs" >MAR</text>
<text x="263.3" y="456.1" fill="#ff3a12" font-size="20" font-family="Liberation Mono" text-anchor="start" font-weight="normal" font-style="italic" textLength="43.3" lengthAdjust="spacingAndGlyphs" >2.65</text>
<text x="265.8" y="468.9" fill="#ff66ff" font-size="20" font-family="Liberation Mono" text-anchor="start" font-weight="normal" font-style="italic" textLength="70.2" lengthAdjust="spacingAndGlyphs" >+13.3%</text>
<text x="265.8" y="484.2" fill="#ffffff" font-size="20" font-family="Liberation Mono" text-anchor="start" font-weight="normal" font-style="italic" textLength="47.2" lengthAdjust="spacingAndGlyphs" >2.46</text>
<text x="265.8" y="509.7" fill="#ffffff" font-size="20" font-family="Liberation Mono" text-anchor="start" font-weight="normal" font-style="normal" textLength="35.7" lengthAdjust="spacingAndGlyphs" >APR</text>
<text x="389.5" y="548.0" fill="#ff3a12" font-size="20" font-family="Liberation Mono" text-anchor="start" font-weight="normal" font-style="italic" textLength="42.1" lengthAdjust="spacingAndGlyphs" >2.81</text>
<text x="385.7" y="564.5" fill="#ff66ff" font-size="20" font-family="Liberation Mono" text-anchor="start" font-weight="normal" font-style="italic" textLength="70.2" lengthAdjust="spacingAndGlyphs" >+21.9%</text>
<text x="392.0" y="581.0" fill="#ffffff" font-size="20" font-family="Liberation Mono" text-anchor="start" font-weight="normal" font-style="italic" textLength="46.0" lengthAdjust="spacingAndGlyphs" >2.80</text>
<text x="398.4" y="625.6" fill="#ffffff" font-size="20" font-family="Liberation Mono" text-anchor="start" font-weight="normal" font-style="normal" textLength="35.4" lengthAdjust="spacingAndGlyphs" >MAY</text>
<text x="518.7" y="585.4" fill="#ff3a12" font-size="20" font-family="Liberation Mono" text-anchor="start" font-weight="normal" font-style="italic" textLength="42.3" lengthAdjust="spacingAndGlyphs" >2.80</text>
<text x="510.0" y="602.3" fill="#ff66ff" font-size="20" font-family="Liberation Mono" text-anchor="start" font-weight="normal" font-style="italic" textLength="70.7" lengthAdjust="spacingAndGlyphs" >+24.1%</text>
<text x="522.5" y="625.0" fill="#ffffff" font-size="20" font-family="Liberation Mono" text-anchor="start" font-weight="normal" font-style="italic" textLength="47.1" lengthAdjust="spacingAndGlyphs" >2.87</text>
<text x="527.0" y="668.7" fill="#ffffff" font-size="20" font-family="Liberation Mono" text-anchor="start" font-weight="normal" font-style="normal" textLength="35.0" lengthAdjust="spacingAndGlyphs" >JUN</text>
<text x="661.6" y="532.0" fill="#ff3a12" font-size="20" font-family="Liberation Mono" text-anchor="start" font-weight="normal" font-style="italic" textLength="43.7" lengthAdjust="spacingAndGlyphs" >2.77</text>
<text x="637.4" y="546.6" fill="#ff66ff" font-size="20" font-family="Liberation Mono" text-anchor="start" font-weight="normal" font-style="italic" textLength="70.3" lengthAdjust="spacingAndGlyphs" >+25.3%</text>
<text x="661.6" y="566.0" fill="#ffffff" font-size="20" font-family="Liberation Mono" text-anchor="start" font-weight="normal" font-style="italic" textLength="46.1" lengthAdjust="spacingAndGlyphs" >2.95</text>
<text x="661.7" y="595.0" fill="#ffffff" font-size="20" font-family="Liberation Mono" text-anchor="start" font-weight="normal" font-style="normal" textLength="35.3" lengthAdjust="spacingAndGlyphs" >JUL</text>
<text x="754.2" y="404.5" fill="#ff3a12" font-size="20" font-family="Liberation Mono" text-anchor="start" font-weight="normal" font-style="italic" textLength="41.3" lengthAdjust="spacingAndGlyphs" >2.77</text>
<text x="742.7" y="423.7" fill="#ff66ff" font-size="20" font-family="Liberation Mono" text-anchor="start" font-weight="normal" font-style="italic" textLength="68.9" lengthAdjust="spacingAndGlyphs" >+20.5%</text>
<text x="762.0" y="443.0" fill="#ffffff" font-size="20" font-family="Liberation Mono" text-anchor="start" font-weight="normal" font-style="italic" textLength="47.3" lengthAdjust="spacingAndGlyphs" >2.70</text>
<text x="763.4" y="466.4" fill="#ffffff" font-size="20" font-family="Liberation Mono" text-anchor="start" font-weight="normal" font-style="normal" textLength="35.3" lengthAdjust="spacingAndGlyphs" >AUG</text>
<text x="870.4" y="449.9" fill="#ff3a12" font-size="20" font-family="Liberation Mono" text-anchor="start" font-weight="normal" font-style="italic" textLength="43.1" lengthAdjust="spacingAndGlyphs" >2.77</text>
<text x="862.0" y="466.0" fill="#ff66ff" font-size="20" font-family="Liberation Mono" text-anchor="start" font-weight="normal" font-style="italic" textLength="58.9" lengthAdjust="spacingAndGlyphs" >+7.7%</text>
<text x="866.7" y="483.4" fill="#ffffff" font-size="20" font-family="Liberation Mono" text-anchor="start" font-weight="normal" font-style="italic" textLength="46.8" lengthAdjust="spacingAndGlyphs" >2.28</text>
<text x="873.6" y="504.1" fill="#ffffff" font-size="20" font-family="Liberation Mono" text-anchor="start" font-weight="normal" font-style="normal" textLength="33.4" lengthAdjust="spacingAndGlyphs" >SEP</text>
<text x="985.0" y="468.7" fill="#ff3a12" font-size="20" font-family="Liberation Mono" text-anchor="start" font-weight="normal" font-style="italic" textLength="43.3" lengthAdjust="spacingAndGlyphs" >2.79</text>
<text x="982.8" y="483.4" fill="#ff66ff" font-size="20" font-family="Liberation Mono" text-anchor="start" font-weight="normal" font-style="italic" textLength="69.8" lengthAdjust="spacingAndGlyphs" >+14.6%</text>
<text x="984.2" y="504.1" fill="#ffffff" font-size="20" font-family="Liberation Mono" text-anchor="start" font-weight="normal" font-style="normal" textLength="34.8" lengthAdjust="spacingAndGlyphs" >OCT</text>
<text x="1128.0" y="459.0" fill="#ffffff" font-size="20" font-family="Liberation Mono" text-anchor="start" font-weight="normal" font-style="normal" textLength="35.0" lengthAdjust="spacingAndGlyphs" >NOV</text>
<text x="1229.8" y="591.7" fill="#ffffff" font-size="20" font-family="Liberation Mono" text-anchor="start" font-weight="normal" font-style="normal" textLength="34.9" lengthAdjust="spacingAndGlyphs" >DEC</text>
<text x="492.9" y="167.7" fill="#ffffff" font-size="20" font-family="Liberation Mono" text-anchor="start" font-weight="normal" font-style="italic" textLength="58.5" lengthAdjust="spacingAndGlyphs" >2.802</text>
<text x="616.0" y="161.1" fill="#ffffff" font-size="20" font-family="Liberation Mono" text-anchor="start" font-weight="normal" font-style="italic" textLength="58.9" lengthAdjust="spacingAndGlyphs" >2.770</text>
<text x="803.3" y="806.0" fill="#ffffff" font-size="22" font-family="Liberation Mono" text-anchor="start" font-weight="normal" font-style="normal" textLength="209.4" lengthAdjust="spacingAndGlyphs" >pebblewriter.com</text>
<text x="842.8" y="831.0" fill="#ffffff" font-size="22" font-family="Liberation Mono" text-anchor="start" font-weight="normal" font-style="normal" textLength="104.7" lengthAdjust="spacingAndGlyphs" >RB daily</text>
<text transform="translate(1091,928) rotate(-90)" fill="#ff3a12" stroke="#ff3a12" stroke-width="0.4" font-size="16" font-family="DejaVu Sans" textLength="155" lengthAdjust="spacingAndGlyphs">US election (11/6/18)</text>
<text transform="translate(1311,916) rotate(-90)" fill="#5a5a5a" font-size="16" font-family="DejaVu Sans" textLength="70" lengthAdjust="spacingAndGlyphs">2018 year</text>
<path d="M328 702 L471 702 L482 714.5 L471 727 L328 727 Z" fill="#cc5f00"/>
<text x="339.5" y="719.5" fill="#ffffff" font-size="15" font-family="DejaVu Sans" text-anchor="start" font-weight="normal" font-style="normal" textLength="129" lengthAdjust="spacingAndGlyphs" stroke="#ffffff" stroke-width="0.5">MARK &gt; 1.5994 ×</text>
</g>
<rect x="1450" y="40" width="86" height="917" fill="#000"/>
<rect x="1450" y="64" width="1" height="872" fill="#555"/>
<rect x="4" y="64" width="1" height="872" fill="#4a4a4a"/>
<rect x="4.5" y="936" width="1446" height="1" fill="#555"/>
<path d="M1458 44 L1464 50 M1465 44 L1465 51 L1458 51 Z" fill="#cfcfcf" stroke="#cfcfcf" stroke-width="1.2"/>
<path d="M1457 55 Q1460 60 1464 55 Q1469 46 1473 51" fill="none" stroke="#cfcfcf" stroke-width="1.3"/>
<path d="M1477 63 L1471 57 M1469 56 L1476 56 L1469 63 Z" fill="#cfcfcf" stroke="#cfcfcf" stroke-width="1.2"/>
<text x="1454" y="90.2" fill="#e6e6e6" stroke="#e6e6e6" stroke-width="0.35" font-size="15.5" font-family="DejaVu Sans" textLength="21.1" lengthAdjust="spacingAndGlyphs">2.3</text>
<line x1="1444" y1="85.2" x2="1450" y2="85.2" stroke="#666" stroke-width="1"/>
<text x="1454" y="128.2" fill="#e6e6e6" stroke="#e6e6e6" stroke-width="0.35" font-size="15.5" font-family="DejaVu Sans" textLength="29.8" lengthAdjust="spacingAndGlyphs">2.25</text>
<line x1="1444" y1="123.2" x2="1450" y2="123.2" stroke="#666" stroke-width="1"/>
<text x="1454" y="167.1" fill="#e6e6e6" stroke="#e6e6e6" stroke-width="0.35" font-size="15.5" font-family="DejaVu Sans" textLength="21.1" lengthAdjust="spacingAndGlyphs">2.2</text>
<line x1="1444" y1="162.1" x2="1450" y2="162.1" stroke="#666" stroke-width="1"/>
<text x="1454" y="206.9" fill="#e6e6e6" stroke="#e6e6e6" stroke-width="0.35" font-size="15.5" font-family="DejaVu Sans" textLength="29.8" lengthAdjust="spacingAndGlyphs">2.15</text>
<line x1="1444" y1="201.9" x2="1450" y2="201.9" stroke="#666" stroke-width="1"/>
<text x="1454" y="247.7" fill="#e6e6e6" stroke="#e6e6e6" stroke-width="0.35" font-size="15.5" font-family="DejaVu Sans" textLength="21.1" lengthAdjust="spacingAndGlyphs">2.1</text>
<line x1="1444" y1="242.7" x2="1450" y2="242.7" stroke="#666" stroke-width="1"/>
<text x="1454" y="289.4" fill="#e6e6e6" stroke="#e6e6e6" stroke-width="0.35" font-size="15.5" font-family="DejaVu Sans" textLength="29.8" lengthAdjust="spacingAndGlyphs">2.05</text>
<line x1="1444" y1="284.4" x2="1450" y2="284.4" stroke="#666" stroke-width="1"/>
<text x="1454" y="376.0" fill="#e6e6e6" stroke="#e6e6e6" stroke-width="0.35" font-size="15.5" font-family="DejaVu Sans" textLength="29.8" lengthAdjust="spacingAndGlyphs">1.95</text>
<line x1="1444" y1="371.0" x2="1450" y2="371.0" stroke="#666" stroke-width="1"/>
<text x="1454" y="420.9" fill="#e6e6e6" stroke="#e6e6e6" stroke-width="0.35" font-size="15.5" font-family="DejaVu Sans" textLength="21.1" lengthAdjust="spacingAndGlyphs">1.9</text>
<line x1="1444" y1="415.9" x2="1450" y2="415.9" stroke="#666" stroke-width="1"/>
<text x="1454" y="467.1" fill="#e6e6e6" stroke="#e6e6e6" stroke-width="0.35" font-size="15.5" font-family="DejaVu Sans" textLength="29.8" lengthAdjust="spacingAndGlyphs">1.85</text>
<line x1="1444" y1="462.1" x2="1450" y2="462.1" stroke="#666" stroke-width="1"/>
<text x="1454" y="514.5" fill="#e6e6e6" stroke="#e6e6e6" stroke-width="0.35" font-size="15.5" font-family="DejaVu Sans" textLength="21.1" lengthAdjust="spacingAndGlyphs">1.8</text>
<line x1="1444" y1="509.5" x2="1450" y2="509.5" stroke="#666" stroke-width="1"/>
<text x="1454" y="563.3" fill="#e6e6e6" stroke="#e6e6e6" stroke-width="0.35" font-size="15.5" font-family="DejaVu Sans" textLength="29.8" lengthAdjust="spacingAndGlyphs">1.75</text>
<line x1="1444" y1="558.3" x2="1450" y2="558.3" stroke="#666" stroke-width="1"/>
<text x="1454" y="613.4" fill="#e6e6e6" stroke="#e6e6e6" stroke-width="0.35" font-size="15.5" font-family="DejaVu Sans" textLength="21.1" lengthAdjust="spacingAndGlyphs">1.7</text>
<line x1="1444" y1="608.4" x2="1450" y2="608.4" stroke="#666" stroke-width="1"/>
<text x="1454" y="665.1" fill="#e6e6e6" stroke="#e6e6e6" stroke-width="0.35" font-size="15.5" font-family="DejaVu Sans" textLength="29.8" lengthAdjust="spacingAndGlyphs">1.65</text>
<line x1="1444" y1="660.1" x2="1450" y2="660.1" stroke="#666" stroke-width="1"/>
<text x="1454" y="718.4" fill="#e6e6e6" stroke="#e6e6e6" stroke-width="0.35" font-size="15.5" font-family="DejaVu Sans" textLength="21.1" lengthAdjust="spacingAndGlyphs">1.6</text>
<line x1="1444" y1="713.4" x2="1450" y2="713.4" stroke="#666" stroke-width="1"/>
<text x="1454" y="773.3" fill="#e6e6e6" stroke="#e6e6e6" stroke-width="0.35" font-size="15.5" font-family="DejaVu Sans" textLength="29.8" lengthAdjust="spacingAndGlyphs">1.55</text>
<line x1="1444" y1="768.3" x2="1450" y2="768.3" stroke="#666" stroke-width="1"/>
<text x="1454" y="830.1" fill="#e6e6e6" stroke="#e6e6e6" stroke-width="0.35" font-size="15.5" font-family="DejaVu Sans" textLength="21.1" lengthAdjust="spacingAndGlyphs">1.5</text>
<line x1="1444" y1="825.1" x2="1450" y2="825.1" stroke="#666" stroke-width="1"/>
<text x="1454" y="888.8" fill="#e6e6e6" stroke="#e6e6e6" stroke-width="0.35" font-size="15.5" font-family="DejaVu Sans" textLength="29.8" lengthAdjust="spacingAndGlyphs">1.45</text>
<line x1="1444" y1="883.8" x2="1450" y2="883.8" stroke="#666" stroke-width="1"/>
<rect x="1453" y="323" width="57" height="17" rx="3" fill="#c8a000"/>
<text x="1458" y="337" fill="#000" font-size="15" font-family="DejaVu Sans" textLength="48" lengthAdjust="spacingAndGlyphs">1.9946</text>
<rect x="1453" y="731" width="57" height="17" rx="3" fill="#ff3d0d"/>
<text x="1458" y="745" fill="#fff" font-size="15" font-family="DejaVu Sans" textLength="48" lengthAdjust="spacingAndGlyphs">1.5759</text>
<rect x="4.5" y="937" width="1446" height="20" fill="#000"/>
<text x="18.2" y="953.2" fill="#e8e8e8" font-size="16" font-family="DejaVu Sans" stroke="#e8e8e8" stroke-width="0.45" textLength="25" lengthAdjust="spacingAndGlyphs">Feb</text>
<line x1="18.7" y1="930" x2="18.7" y2="936" stroke="#666" stroke-width="1"/>
<text x="123.4" y="953.2" fill="#e8e8e8" font-size="16" font-family="DejaVu Sans" stroke="#e8e8e8" stroke-width="0.45" textLength="27" lengthAdjust="spacingAndGlyphs">Mar</text>
<line x1="123.9" y1="930" x2="123.9" y2="936" stroke="#666" stroke-width="1"/>
<text x="239.8" y="953.2" fill="#e8e8e8" font-size="16" font-family="DejaVu Sans" stroke="#e8e8e8" stroke-width="0.45" textLength="25.5" lengthAdjust="spacingAndGlyphs">Apr</text>
<line x1="240.3" y1="930" x2="240.3" y2="936" stroke="#666" stroke-width="1"/>
<text x="357.2" y="953.2" fill="#e8e8e8" font-size="16" font-family="DejaVu Sans" stroke="#e8e8e8" stroke-width="0.45" textLength="29" lengthAdjust="spacingAndGlyphs">May</text>
<line x1="357.7" y1="930" x2="357.7" y2="936" stroke="#666" stroke-width="1"/>
<text x="477.6" y="953.2" fill="#e8e8e8" font-size="16" font-family="DejaVu Sans" stroke="#e8e8e8" stroke-width="0.45" textLength="24" lengthAdjust="spacingAndGlyphs">Jun</text>
<line x1="478.1" y1="930" x2="478.1" y2="936" stroke="#666" stroke-width="1"/>
<text x="594" y="953.2" fill="#e8e8e8" font-size="16" font-family="DejaVu Sans" stroke="#e8e8e8" stroke-width="0.45" textLength="19" lengthAdjust="spacingAndGlyphs">Jul</text>
<line x1="594.5" y1="930" x2="594.5" y2="936" stroke="#666" stroke-width="1"/>
<text x="712" y="953.2" fill="#e8e8e8" font-size="16" font-family="DejaVu Sans" stroke="#e8e8e8" stroke-width="0.45" textLength="30" lengthAdjust="spacingAndGlyphs">Aug</text>
<line x1="712.5" y1="930" x2="712.5" y2="936" stroke="#666" stroke-width="1"/>
<text x="840" y="953.2" fill="#e8e8e8" font-size="16" font-family="DejaVu Sans" stroke="#e8e8e8" stroke-width="0.45" textLength="26" lengthAdjust="spacingAndGlyphs">Sep</text>
<line x1="840.5" y1="930" x2="840.5" y2="936" stroke="#666" stroke-width="1"/>
<text x="948" y="953.2" fill="#e8e8e8" font-size="16" font-family="DejaVu Sans" stroke="#e8e8e8" stroke-width="0.45" textLength="24" lengthAdjust="spacingAndGlyphs">Oct</text>
<line x1="948.5" y1="930" x2="948.5" y2="936" stroke="#666" stroke-width="1"/>
<text x="1075" y="953.2" fill="#e8e8e8" font-size="16" font-family="DejaVu Sans" stroke="#e8e8e8" stroke-width="0.45" textLength="28" lengthAdjust="spacingAndGlyphs">Nov</text>
<line x1="1075.5" y1="930" x2="1075.5" y2="936" stroke="#666" stroke-width="1"/>
<text x="1196" y="953.2" fill="#e8e8e8" font-size="16" font-family="DejaVu Sans" stroke="#e8e8e8" stroke-width="0.45" textLength="28" lengthAdjust="spacingAndGlyphs">Dec</text>
<line x1="1196.5" y1="930" x2="1196.5" y2="936" stroke="#666" stroke-width="1"/>
<text x="1316" y="953.2" fill="#e8e8e8" font-size="16" font-family="DejaVu Sans" stroke="#e8e8e8" stroke-width="0.45" textLength="15" lengthAdjust="spacingAndGlyphs">19</text>
<line x1="1316.5" y1="930" x2="1316.5" y2="936" stroke="#666" stroke-width="1"/>
<text x="1440" y="953.2" fill="#e8e8e8" font-size="16" font-family="DejaVu Sans" stroke="#e8e8e8" stroke-width="0.45" textLength="25" lengthAdjust="spacingAndGlyphs">Feb</text>
<line x1="1440.5" y1="930" x2="1440.5" y2="936" stroke="#666" stroke-width="1"/>
<rect x="2.5" y="957" width="1533.5" height="28" fill="#fff"/>
<rect x="2.5" y="962" width="1192" height="18" fill="#000"/>
<path d="M8 971 L12 967 L12 975 Z" fill="#666"/>
<rect x="897" y="963" width="96" height="16" fill="#1c1c1c"/>
<text x="945" y="975" fill="#777" font-size="10" font-family="DejaVu Sans" text-anchor="middle">|||</text>
<path d="M1163 971 L1167 967 L1167 975 Z" fill="#777"/><path d="M1187 971 L1183 967 L1183 975 Z" fill="#777"/>
<path d="M1197.5 970 L1202 965.5 L1202 974.5 Z M1216.5 970 L1212 965.5 L1212 974.5 Z" fill="#a8a8a8"/><path d="M1204 966 L1204 974 M1207 966 L1207 974 M1210 966 L1210 974" stroke="#a8a8a8" stroke-width="1.5"/>
<circle cx="1234" cy="971" r="6.5" fill="none" stroke="#a8a8a8" stroke-width="1.8"/><path d="M1226 971 L1242 971 M1234 963 L1234 979" stroke="#a8a8a8" stroke-width="1.6"/>
<circle cx="1259.5" cy="968.5" r="7" fill="none" stroke="#a8a8a8" stroke-width="2"/><path d="M1264.5 973.5 L1270.5 979.5" stroke="#a8a8a8" stroke-width="2.4"/><path d="M1256.0 968.5 L1263.0 968.5" stroke="#a8a8a8" stroke-width="1.8"/>
<path d="M1259.5 965 L1259.5 972" stroke="#a8a8a8" stroke-width="1.8"/>
<circle cx="1287.5" cy="968.5" r="7" fill="none" stroke="#a8a8a8" stroke-width="2"/><path d="M1292.5 973.5 L1298.5 979.5" stroke="#a8a8a8" stroke-width="2.4"/><path d="M1284.0 968.5 L1291.0 968.5" stroke="#a8a8a8" stroke-width="1.8"/>
<text x="1308" y="980" fill="#a8a8a8" font-size="23" font-family="Liberation Serif" font-weight="bold">T</text>
<text x="1346" y="977" fill="#a0a0a0" font-size="15.5" font-family="DejaVu Sans" textLength="177" lengthAdjust="spacingAndGlyphs">Drawing set: 2018-1113</text>
<path d="M1527 983 L1532 983 L1532 978 Z" fill="#999"/>
<rect x="1536" y="40" width="29" height="947" fill="#1a1a1a"/>
<rect x="1537" y="41" width="27.5" height="67" fill="#363636" stroke="#4a4a4a" stroke-width="1"/>
<text transform="translate(1556,79.5) rotate(-90)" fill="#c8c8c8" font-size="14" font-family="DejaVu Sans" text-anchor="middle">Trade</text>
<rect x="1537" y="110" width="27.5" height="144" fill="#363636" stroke="#4a4a4a" stroke-width="1"/>
<text transform="translate(1556,187.0) rotate(-90)" fill="#c8c8c8" font-size="14" font-family="DejaVu Sans" text-anchor="middle">Times And Sales</text>
<rect x="1537" y="256" width="27.5" height="120" fill="#363636" stroke="#4a4a4a" stroke-width="1"/>
<text transform="translate(1556,321.0) rotate(-90)" fill="#c8c8c8" font-size="14" font-family="DejaVu Sans" text-anchor="middle">Active Trader</text>
<rect x="1537" y="378" width="27.5" height="109" fill="#363636" stroke="#4a4a4a" stroke-width="1"/>
<text transform="translate(1556,437.5) rotate(-90)" fill="#c8c8c8" font-size="14" font-family="DejaVu Sans" text-anchor="middle">Big Buttons</text>
<rect x="1537" y="489" width="27.5" height="66" fill="#5a5a5a" stroke="#4a4a4a" stroke-width="1"/>
<text transform="translate(1556,527.0) rotate(-90)" fill="#c8c8c8" font-size="14" font-family="DejaVu Sans" text-anchor="middle">Chart</text>
<rect x="1537" y="557" width="27.5" height="119" fill="#363636" stroke="#4a4a4a" stroke-width="1"/>
<text transform="translate(1556,621.5) rotate(-90)" fill="#c8c8c8" font-size="14" font-family="DejaVu Sans" text-anchor="middle">Phase Scores</text>
<rect x="1537" y="678" width="27.5" height="103" fill="#363636" stroke="#4a4a4a" stroke-width="1"/>
<text transform="translate(1556,734.5) rotate(-90)" fill="#c8c8c8" font-size="14" font-family="DejaVu Sans" text-anchor="middle">Dashboard</text>
<rect x="1537" y="783" width="27.5" height="75" fill="#363636" stroke="#4a4a4a" stroke-width="1"/>
<text transform="translate(1556,825.5) rotate(-90)" fill="#c8c8c8" font-size="14" font-family="DejaVu Sans" text-anchor="middle">Level II</text>
<rect x="1537" y="860" width="27.5" height="98" fill="#363636" stroke="#4a4a4a" stroke-width="1"/>
<text transform="translate(1556,914.0) rotate(-90)" fill="#c8c8c8" font-size="14" font-family="DejaVu Sans" text-anchor="middle">Live News</text>
<rect x="1537" y="960" width="27.5" height="25" fill="#363636" stroke="#4a4a4a" stroke-width="1"/>
</svg>
</body></html>
